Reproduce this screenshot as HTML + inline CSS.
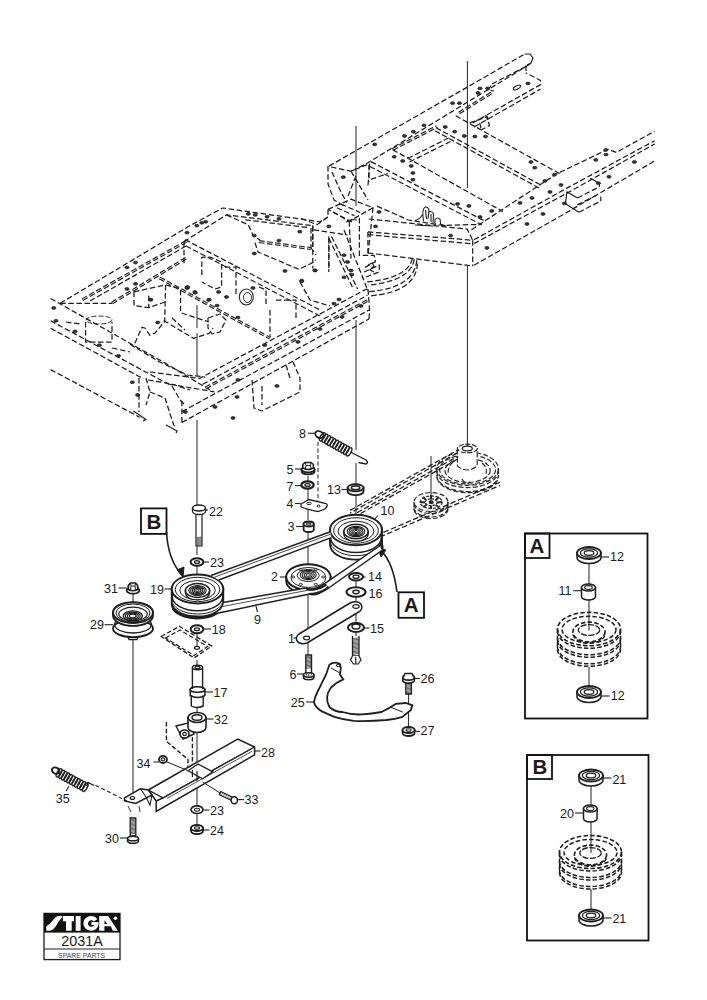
<!DOCTYPE html>
<html><head><meta charset="utf-8">
<style>
html,body{margin:0;padding:0;background:#fff;}
body{width:707px;height:1000px;overflow:hidden;position:relative;}
svg{position:absolute;left:0;top:0;}
text{font-family:"Liberation Sans",sans-serif;fill:#1a1a1a;}
</style></head><body>
<svg width="707" height="1000" viewBox="0 0 707 1000">
<rect width="707" height="1000" fill="#fff"/>
<path d="M423.5,221 Q421.5,208.5 425.5,207 Q428.5,206.8 429,210.5 L428,219 M425.5,210 L426.5,219 M428.8,212 Q431.5,210.5 433.6,214 L433,223 M431,214 L431,222 M435,226 L435,219.5 Q437.5,216.5 440.2,219.5 L440.5,224 L446,226 M415,220.5 Q420,219 422.4,214.7 M415,225 L433,226" fill="none" stroke="#1c1c1c" stroke-width="1.1"/>
<g fill="none" stroke="#1c1c1c" stroke-width="1.25" stroke-dasharray="5.5 2.6">
<path d="M412.4,258.5 Q408,278 366.5,282"/>
<path d="M414.3,259.1 Q411,281 367.8,285.2"/>
<path d="M416.8,260.4 Q414,288 369,291.6"/>
<path d="M417.5,263.5 Q416,292 369.7,296"/>
</g>
<ellipse cx="246.3" cy="297" rx="7" ry="8" fill="none" stroke="#2a2a2a" stroke-width="1.1"/>
<ellipse cx="247.5" cy="297.5" rx="4" ry="5" fill="none" stroke="#2a2a2a" stroke-width="1"/>
<ellipse cx="99" cy="320" rx="13" ry="4" fill="none" stroke="#2a2a2a" stroke-width="1" stroke-dasharray="5 2"/>
<g fill="none" stroke="#2a2a2a" stroke-width="1.2" stroke-dasharray="5 2.2">
<ellipse cx="467.6" cy="468.7" rx="30.8" ry="16.6"/>
<ellipse cx="467.6" cy="469.5" rx="28" ry="14.5"/>
<ellipse cx="467.6" cy="470.4" rx="22.6" ry="12"/>
<path d="M436.8,471 A30.8,16.6 0 0 0 498.4,471 M436.8,475 A30.8,16.6 0 0 0 498.4,475 M437,478 A30.8,16.6 0 0 0 498.2,478 M436.8,468.7 L436.8,478 M498.4,468.7 L498.4,478"/>
<path d="M453,462 Q448,466 448,474 M482,463 Q488,468 486,474 M462,479 Q466,486 470,482"/>
<ellipse cx="431" cy="502" rx="17" ry="9.5"/>
<path d="M414,504 A17,9.5 0 0 0 448,504 M414,507.5 A17,9.5 0 0 0 448,507.5 M414.2,510.5 A17,9.5 0 0 0 447.8,510.5 M414,502 L414,510.5 M448,502 L448,510.5"/>
</g>
<path d="M457.4,448.5 L457.4,466 Q467,474 477.2,466 L477.2,448.5" fill="#fff" stroke="#2a2a2a" stroke-width="1.1" stroke-dasharray="6 2"/>
<ellipse cx="467.3" cy="448.5" rx="9.9" ry="4.3" fill="#fff" stroke="#2a2a2a" stroke-width="1.2" stroke-dasharray="5 1.5"/>
<ellipse cx="467.3" cy="448.5" rx="5" ry="2.3" fill="none" stroke="#2a2a2a" stroke-width="1.3"/>
<g fill="none" stroke="#2a2a2a" stroke-width="1.3">
<ellipse cx="431.2" cy="502.2" rx="11" ry="6.2" stroke-dasharray="3 1.5"/>
<ellipse cx="431.2" cy="502.2" rx="6" ry="3.4" stroke-dasharray="2.5 1.2"/>
<path d="M431,495 L431,499 M439,497 L436,500 M442,502 L437,502.5 M439,507 L435.5,505 M431,509 L431,505.5 M423,507 L426.5,505 M420,502 L425,502.5 M423,497 L426,500" stroke-width="2"/>
<ellipse cx="431.2" cy="502.2" rx="2" ry="1.3" fill="#333"/>
</g>
<ellipse cx="517" cy="87.5" rx="4" ry="1.6" fill="none" stroke="#1c1c1c" stroke-width="1.1" transform="rotate(-28 517 87.5)"/>
<g id="frame" fill="none" stroke-linecap="butt" stroke-linejoin="round">
<path d="M328.9,166.1 L470,85.6 L524.7,54" stroke="#1c1c1c" stroke-width="1.25" stroke-dasharray="5.5 2.6"/>
<path d="M524.7,54 L530,54 L533,58 L531,63 L527,65" stroke="#1c1c1c" stroke-width="1.2"/>
<path d="M351.7,171 L367.5,163 L531.8,63" stroke="#1c1c1c" stroke-width="1.25" stroke-dasharray="5.5 2.6"/>
<path d="M392.5,149.5 L437,126.5" stroke="#1c1c1c" stroke-width="3.0" stroke-dasharray="5.5 2.6"/>
<path d="M392.5,149.5 L437,126.5" stroke="#fff" stroke-width="0.8" stroke-dasharray="5.5 2.6"/>
<path d="M459,113 L493,92" stroke="#1c1c1c" stroke-width="3.0" stroke-dasharray="5.5 2.6"/>
<path d="M459,113 L493,92" stroke="#fff" stroke-width="0.8" stroke-dasharray="5.5 2.6"/>
<path d="M526,65.5 L526,74" stroke="#1c1c1c" stroke-width="1.25" stroke-dasharray="5.5 2.6"/>
<path d="M491,85.5 L488,90 L494,91" stroke="#1c1c1c" stroke-width="1.25" stroke-dasharray="5.5 2.6"/>
<path d="M481,128.3 L479,119.8 L486,115.5 L488.6,123.2" stroke="#1c1c1c" stroke-width="1.25" stroke-dasharray="5.5 2.6"/>
<path d="M492,84 L527,66" stroke="#1c1c1c" stroke-width="1.25" stroke-dasharray="5.5 2.6"/>
<path d="M472.7,123 L540.6,84.6 L540.6,80.5 L526,73" stroke="#1c1c1c" stroke-width="1.25" stroke-dasharray="5.5 2.6"/>
<path d="M474,127 L540.6,89" stroke="#1c1c1c" stroke-width="1.25" stroke-dasharray="5.5 2.6"/>
<path d="M455.7,115.8 L560.7,174.3" stroke="#1c1c1c" stroke-width="1.25" stroke-dasharray="5.5 2.6"/>
<path d="M436,127.7 L540.9,185.1" stroke="#1c1c1c" stroke-width="1.25" stroke-dasharray="5.5 2.6"/>
<path d="M435,130.7 L539,188" stroke="#1c1c1c" stroke-width="1.25" stroke-dasharray="5.5 2.6"/>
<path d="M469.6,122.8 L487.4,116.8 L489.4,125.7 L481.5,129.7" stroke="#1c1c1c" stroke-width="1.25" stroke-dasharray="5.5 2.6"/>
<path d="M392.7,149.7 L503,211.6" stroke="#1c1c1c" stroke-width="1.25" stroke-dasharray="5.5 2.6"/>
<path d="M407.8,158.4 L448.6,138" stroke="#1c1c1c" stroke-width="1.25" stroke-dasharray="5.5 2.6"/>
<path d="M409.5,162 L450.5,141.5" stroke="#1c1c1c" stroke-width="1.25" stroke-dasharray="5.5 2.6"/>
<path d="M370.9,161.6 L485.8,221.6" stroke="#1c1c1c" stroke-width="1.25" stroke-dasharray="5.5 2.6"/>
<path d="M369.9,166.5 L481.8,224.9" stroke="#1c1c1c" stroke-width="1.25" stroke-dasharray="5.5 2.6"/>
<path d="M370.9,179.4 L387.7,173.5" stroke="#1c1c1c" stroke-width="1.25" stroke-dasharray="5.5 2.6"/>
<path d="M369,165 L369,182" stroke="#1c1c1c" stroke-width="1.25" stroke-dasharray="5.5 2.6"/>
<path d="M377,206.1 L395,214 L408.3,220 L443.3,225.5 L476.4,224.5" stroke="#1c1c1c" stroke-width="1.25" stroke-dasharray="5.5 2.6"/>
<path d="M368.8,219 L467.2,229.1 L472.7,240.2" stroke="#1c1c1c" stroke-width="1.25" stroke-dasharray="5.5 2.6"/>
<path d="M367.9,231.9 L472.7,240.2" stroke="#1c1c1c" stroke-width="1.25" stroke-dasharray="5.5 2.6"/>
<path d="M367.9,234.7 L472.7,243.8" stroke="#1c1c1c" stroke-width="1.25" stroke-dasharray="5.5 2.6"/>
<path d="M367.9,253 L472.7,266" stroke="#1c1c1c" stroke-width="1.25" stroke-dasharray="5.5 2.6"/>
<path d="M367.9,232 L367.9,253" stroke="#1c1c1c" stroke-width="1.25" stroke-dasharray="5.5 2.6"/>
<path d="M472.7,240.2 L472.7,266" stroke="#1c1c1c" stroke-width="1.25" stroke-dasharray="5.5 2.6"/>
<path d="M471.5,229.7 L557,173.7 L608,149.3 L616.4,152.4 L654.6,131.2" stroke="#1c1c1c" stroke-width="1.25" stroke-dasharray="5.5 2.6"/>
<path d="M474,239.8 L570,186.4 L654.6,140.8" stroke="#1c1c1c" stroke-width="1.25" stroke-dasharray="5.5 2.6"/>
<path d="M474,243.6 L570,191.5 L654.6,144" stroke="#1c1c1c" stroke-width="1.25" stroke-dasharray="5.5 2.6"/>
<path d="M474,265.3 L570,210.6 L654.6,161" stroke="#1c1c1c" stroke-width="1.25" stroke-dasharray="5.5 2.6"/>
<path d="M566.9,191.7 L577.5,198" stroke="#1c1c1c" stroke-width="1.2"/>
<path d="M577.5,198 L599.4,186.8" stroke="#1c1c1c" stroke-width="1.25" stroke-dasharray="5.5 2.6"/>
<path d="M590.2,178.3 L599.4,183.2 L599.4,186.8" stroke="#1c1c1c" stroke-width="1.2"/>
<path d="M565.5,203.7 L578.9,212.2" stroke="#1c1c1c" stroke-width="1.2"/>
<path d="M578.9,212.2 L600.8,201" stroke="#1c1c1c" stroke-width="1.25" stroke-dasharray="5.5 2.6"/>
<path d="M600.8,196.5 L600.8,201" stroke="#1c1c1c" stroke-width="1.2"/>
<path d="M596.6,195.3 L577,205" stroke="#1c1c1c" stroke-width="1.25" stroke-dasharray="5.5 2.6"/>
<path d="M566.9,191.7 L565.5,203.7" stroke="#1c1c1c" stroke-width="1.2"/>
<path d="M328,166.1 L328,184 L334,200 L344,206" stroke="#1c1c1c" stroke-width="1.25" stroke-dasharray="5.5 2.6"/>
<path d="M332,172 L340,190 L346.7,202.6" stroke="#1c1c1c" stroke-width="1.25" stroke-dasharray="5.5 2.6"/>
<path d="M331,167 L351,171.2 L369.6,163.6" stroke="#1c1c1c" stroke-width="1.25" stroke-dasharray="5.5 2.6"/>
<path d="M369.6,163.6 L368,185.6" stroke="#1c1c1c" stroke-width="1.25" stroke-dasharray="5.5 2.6"/>
<path d="M351,171.2 L368,200" stroke="#1c1c1c" stroke-width="1.25" stroke-dasharray="5.5 2.6"/>
<path d="M356,176 L348,196" stroke="#1c1c1c" stroke-width="1.25" stroke-dasharray="5.5 2.6"/>
<path d="M328,209.4 L351,199.2 L373,207.7 L349.2,221.3 L328,209.4" stroke="#1c1c1c" stroke-width="1.25" stroke-dasharray="5.5 2.6"/>
<path d="M333,212 L352,222" stroke="#1c1c1c" stroke-width="1.25" stroke-dasharray="5.5 2.6"/>
<path d="M336.8,207.7 L354.5,215.7" stroke="#1c1c1c" stroke-width="1.25" stroke-dasharray="5.5 2.6"/>
<path d="M341,204 L360,212.5" stroke="#1c1c1c" stroke-width="1.25" stroke-dasharray="5.5 2.6"/>
<path d="M346,222 L352,219.5 L357,220" stroke="#1c1c1c" stroke-width="1.2"/>
<path d="M312.8,225.3 L312.8,268.5" stroke="#1c1c1c" stroke-width="1.25" stroke-dasharray="5.5 2.6"/>
<path d="M328.8,236.5 L328.8,272" stroke="#1c1c1c" stroke-width="1.25" stroke-dasharray="5.5 2.6"/>
<path d="M349.2,221.3 L351,258.6" stroke="#1c1c1c" stroke-width="1.25" stroke-dasharray="5.5 2.6"/>
<path d="M359.4,218 L359.4,258.6" stroke="#1c1c1c" stroke-width="1.25" stroke-dasharray="5.5 2.6"/>
<path d="M373,207.7 L368,255" stroke="#1c1c1c" stroke-width="1.25" stroke-dasharray="5.5 2.6"/>
<path d="M328,209.4 L328,217 L317,224.7 L300,218" stroke="#1c1c1c" stroke-width="1.25" stroke-dasharray="5.5 2.6"/>
<path d="M313.6,229.8 L347.5,235" stroke="#1c1c1c" stroke-width="1.25" stroke-dasharray="5.5 2.6"/>
<path d="M311,228 L311,248.4" stroke="#1c1c1c" stroke-width="1.25" stroke-dasharray="5.5 2.6"/>
<path d="M328.9,238.3 L352.6,287.5" stroke="#1c1c1c" stroke-width="1.25" stroke-dasharray="5.5 2.6"/>
<path d="M331.5,236.5 L357.7,289" stroke="#1c1c1c" stroke-width="1.25" stroke-dasharray="5.5 2.6"/>
<path d="M344,230 L368,291" stroke="#1c1c1c" stroke-width="1.25" stroke-dasharray="5.5 2.6"/>
<path d="M328.9,238.3 L328.9,270" stroke="#1c1c1c" stroke-width="1.25" stroke-dasharray="5.5 2.6"/>
<path d="M362.7,255.3 L374.2,255.3 L375.5,261.6 L364,268" stroke="#1c1c1c" stroke-width="1.25" stroke-dasharray="5.5 2.6"/>
<path d="M364,272 L379.3,265 L379.3,271.8 L363,278.2" stroke="#1c1c1c" stroke-width="1.25" stroke-dasharray="5.5 2.6"/>
<path d="M368,265 L372,263 L374,266 L370,270 L374,272" stroke="#1c1c1c" stroke-width="1.2"/>
<path d="M60.2,303.3 L188.5,226.5 L222.6,208 L320,221.8 L328,217" stroke="#1c1c1c" stroke-width="1.25" stroke-dasharray="5.5 2.6"/>
<path d="M82.4,299.7 L186.4,241.4" stroke="#1c1c1c" stroke-width="3.0" stroke-dasharray="5.5 2.6"/>
<path d="M82.4,299.7 L186.4,241.4" stroke="#fff" stroke-width="0.8" stroke-dasharray="5.5 2.6"/>
<path d="M90,301 L186,246" stroke="#1c1c1c" stroke-width="1.25" stroke-dasharray="5.5 2.6"/>
<path d="M112,303 L186.4,258" stroke="#1c1c1c" stroke-width="3.0" stroke-dasharray="5.5 2.6"/>
<path d="M112,303 L186.4,258" stroke="#fff" stroke-width="0.8" stroke-dasharray="5.5 2.6"/>
<path d="M60.2,303.3 L112,303.3" stroke="#1c1c1c" stroke-width="1.25" stroke-dasharray="5.5 2.6"/>
<path d="M184,241.6 L226.5,214.9 L312.7,225.7 L312.7,246.5" stroke="#1c1c1c" stroke-width="1.25" stroke-dasharray="5.5 2.6"/>
<path d="M185,239.6 L320,309.9" stroke="#1c1c1c" stroke-width="1.25" stroke-dasharray="5.5 2.6"/>
<path d="M186,246 L320,316" stroke="#1c1c1c" stroke-width="1.25" stroke-dasharray="5.5 2.6"/>
<path d="M184,241.6 L184,265.3" stroke="#1c1c1c" stroke-width="1.25" stroke-dasharray="5.5 2.6"/>
<path d="M226.5,214.9 L248.3,224.8 L253.3,235.6 L260,240" stroke="#1c1c1c" stroke-width="1.25" stroke-dasharray="5.5 2.6"/>
<path d="M245.3,219.8 L308.7,227.7" stroke="#1c1c1c" stroke-width="1.25" stroke-dasharray="5.5 2.6"/>
<path d="M259,241.6 L310.7,248.5" stroke="#1c1c1c" stroke-width="3.0" stroke-dasharray="5.5 2.6"/>
<path d="M259,241.6 L310.7,248.5" stroke="#fff" stroke-width="0.8" stroke-dasharray="5.5 2.6"/>
<path d="M255,242.6 L258,252 L298.8,269.3 L310,264 L316,260" stroke="#1c1c1c" stroke-width="1.25" stroke-dasharray="5.5 2.6"/>
<path d="M310.7,247.5 L316,255" stroke="#1c1c1c" stroke-width="1.25" stroke-dasharray="5.5 2.6"/>
<path d="M201.8,275 L201.8,257.4 L210,257 L221.6,262 L221.6,287 L215,289 L201.8,282" stroke="#1c1c1c" stroke-width="1.25" stroke-dasharray="5.5 2.6"/>
<path d="M225,267 L236,267 L236,296" stroke="#1c1c1c" stroke-width="1.25" stroke-dasharray="5.5 2.6"/>
<path d="M259,287 L266,290 L266,306" stroke="#1c1c1c" stroke-width="1.25" stroke-dasharray="5.5 2.6"/>
<path d="M276,300 L296,300 L296,320" stroke="#1c1c1c" stroke-width="1.25" stroke-dasharray="5.5 2.6"/>
<path d="M159.7,278 L270,338.3" stroke="#1c1c1c" stroke-width="3.0" stroke-dasharray="5.5 2.6"/>
<path d="M159.7,278 L270,338.3" stroke="#fff" stroke-width="0.8" stroke-dasharray="5.5 2.6"/>
<path d="M134,291.8 L165.6,284.9 L180.5,288.8 L180.5,312.6 L209,322" stroke="#1c1c1c" stroke-width="1.25" stroke-dasharray="5.5 2.6"/>
<path d="M134,291.8 L134,305.6 L148.8,307.6 L165,302" stroke="#1c1c1c" stroke-width="1.25" stroke-dasharray="5.5 2.6"/>
<path d="M148.8,295.7 L148.8,307.6" stroke="#1c1c1c" stroke-width="1.25" stroke-dasharray="5.5 2.6"/>
<path d="M165.6,284.9 L164.7,321.5 L155,333 L149.8,335.3 L145,328 L141.9,327.4 L134,345.2" stroke="#1c1c1c" stroke-width="1.25" stroke-dasharray="5.5 2.6"/>
<path d="M163.7,320.5 L193.4,338.3 L209.2,333.4 L213,328" stroke="#1c1c1c" stroke-width="1.25" stroke-dasharray="5.5 2.6"/>
<path d="M172,318 L185,330" stroke="#1c1c1c" stroke-width="1.25" stroke-dasharray="5.5 2.6"/>
<path d="M208,318 L220,314 L226,320 L220,332 L212,334 L208,328 L208,318" stroke="#1c1c1c" stroke-width="1.25" stroke-dasharray="5.5 2.6"/>
<path d="M130,344.3 L159.7,362 L187.4,375 L205,377" stroke="#1c1c1c" stroke-width="1.25" stroke-dasharray="5.5 2.6"/>
<path d="M270,310 L270,337" stroke="#1c1c1c" stroke-width="1.25" stroke-dasharray="5.5 2.6"/>
<path d="M300,282 L310,300 L330,306" stroke="#1c1c1c" stroke-width="1.25" stroke-dasharray="5.5 2.6"/>
<path d="M50.6,298.5 L167.3,364.3 L210,390" stroke="#1c1c1c" stroke-width="1.25" stroke-dasharray="5.5 2.6"/>
<path d="M50.6,320.8 L158.8,379 L172,386" stroke="#1c1c1c" stroke-width="1.25" stroke-dasharray="5.5 2.6"/>
<path d="M50.6,328.2 L141.8,378" stroke="#1c1c1c" stroke-width="1.25" stroke-dasharray="5.5 2.6"/>
<path d="M50.6,369.6 L139.7,417.3" stroke="#1c1c1c" stroke-width="1.25" stroke-dasharray="5.5 2.6"/>
<path d="M133.4,411 L146,419.4 L143,421" stroke="#1c1c1c" stroke-width="1.2"/>
<path d="M139,378 L139,412" stroke="#1c1c1c" stroke-width="1.25" stroke-dasharray="5.5 2.6"/>
<path d="M146,378 L150,392 L146,405" stroke="#1c1c1c" stroke-width="1.25" stroke-dasharray="5.5 2.6"/>
<path d="M85.6,322 L85.6,342 L112,342 L112,322" stroke="#1c1c1c" stroke-width="1.25" stroke-dasharray="5.5 2.6"/>
<path d="M66,322 L80,324" stroke="#1c1c1c" stroke-width="1.25" stroke-dasharray="5.5 2.6"/>
<path d="M112,348 L130,352" stroke="#1c1c1c" stroke-width="1.25" stroke-dasharray="5.5 2.6"/>
<path d="M148,380 L172,384 L190,390" stroke="#1c1c1c" stroke-width="1.25" stroke-dasharray="5.5 2.6"/>
<path d="M172,386 L180,400 L185,405" stroke="#1c1c1c" stroke-width="1.25" stroke-dasharray="5.5 2.6"/>
<path d="M150,372 L199.7,378.4 L366,289.3 L368,289.2" stroke="#1c1c1c" stroke-width="1.25" stroke-dasharray="5.5 2.6"/>
<path d="M202.7,384.3 L367.5,295.2" stroke="#1c1c1c" stroke-width="1.25" stroke-dasharray="5.5 2.6"/>
<path d="M205.6,388 L367.5,300.5" stroke="#1c1c1c" stroke-width="3.0" stroke-dasharray="5.5 2.6"/>
<path d="M205.6,388 L367.5,300.5" stroke="#fff" stroke-width="0.8" stroke-dasharray="5.5 2.6"/>
<path d="M181.9,411.6 L369,310" stroke="#1c1c1c" stroke-width="1.25" stroke-dasharray="5.5 2.6"/>
<path d="M181.9,422.5 L369,319" stroke="#1c1c1c" stroke-width="1.25" stroke-dasharray="5.5 2.6"/>
<path d="M368,289.2 L369.6,310 L369,319" stroke="#1c1c1c" stroke-width="1.25" stroke-dasharray="5.5 2.6"/>
<path d="M170,384.3 L214.5,391.8" stroke="#1c1c1c" stroke-width="1.25" stroke-dasharray="5.5 2.6"/>
<path d="M181.9,400.7 L181.9,422.5" stroke="#1c1c1c" stroke-width="1.25" stroke-dasharray="5.5 2.6"/>
<path d="M150,392 L165,398 L172,420 L175,428" stroke="#1c1c1c" stroke-width="1.25" stroke-dasharray="5.5 2.6"/>
<path d="M166,425 L177,431 L176,433" stroke="#1c1c1c" stroke-width="1.2"/>
<path d="M252,380 L254,408 L262,411 L300,392 L300,378 L293,362" stroke="#1c1c1c" stroke-width="1.25" stroke-dasharray="5.5 2.6"/>
<path d="M262,386 L262,405" stroke="#1c1c1c" stroke-width="1.25" stroke-dasharray="5.5 2.6"/>
<path d="M286,365 L290,378" stroke="#1c1c1c" stroke-width="1.25" stroke-dasharray="5.5 2.6"/>
<path d="M350,510.4 L458,449.9" stroke="#1c1c1c" stroke-width="1.25" stroke-dasharray="5.5 2.6"/>
<path d="M350,513.1 L458,452.6" stroke="#1c1c1c" stroke-width="1.25" stroke-dasharray="5.5 2.6" stroke-dashoffset="4"/>
<path d="M350,516.7 L458,456.2" stroke="#1c1c1c" stroke-width="1.25" stroke-dasharray="5.5 2.6"/>
<path d="M350,519.4 L458,458.9" stroke="#1c1c1c" stroke-width="1.25" stroke-dasharray="5.5 2.6" stroke-dashoffset="4"/>
<path d="M376,535.6 L500,482.3" stroke="#1c1c1c" stroke-width="1.25" stroke-dasharray="5.5 2.6"/>
<path d="M376,538.7 L500,485.4" stroke="#1c1c1c" stroke-width="1.25" stroke-dasharray="5.5 2.6" stroke-dashoffset="4"/>
<ellipse cx="450.6" cy="235.6" rx="2.1" ry="1.4" fill="#333" stroke="#1c1c1c" stroke-width="0.7"/>
<ellipse cx="374.7" cy="144.4" rx="2.1" ry="1.4" fill="#333" stroke="#1c1c1c" stroke-width="0.7"/>
<ellipse cx="404.5" cy="136" rx="2.1" ry="1.4" fill="#333" stroke="#1c1c1c" stroke-width="0.7"/>
<ellipse cx="413.4" cy="131.7" rx="2.1" ry="1.4" fill="#333" stroke="#1c1c1c" stroke-width="0.7"/>
<ellipse cx="424" cy="125.3" rx="2.1" ry="1.4" fill="#333" stroke="#1c1c1c" stroke-width="0.7"/>
<ellipse cx="452.6" cy="103.2" rx="2.1" ry="1.4" fill="#333" stroke="#1c1c1c" stroke-width="0.7"/>
<ellipse cx="459.4" cy="103.2" rx="2.1" ry="1.4" fill="#333" stroke="#1c1c1c" stroke-width="0.7"/>
<ellipse cx="445.2" cy="127" rx="2.1" ry="1.4" fill="#333" stroke="#1c1c1c" stroke-width="0.7"/>
<ellipse cx="454.7" cy="131.7" rx="2.1" ry="1.4" fill="#333" stroke="#1c1c1c" stroke-width="0.7"/>
<ellipse cx="464.3" cy="136" rx="2.1" ry="1.4" fill="#333" stroke="#1c1c1c" stroke-width="0.7"/>
<ellipse cx="394.2" cy="156.8" rx="2.1" ry="1.4" fill="#333" stroke="#1c1c1c" stroke-width="0.7"/>
<ellipse cx="402.7" cy="161" rx="2.1" ry="1.4" fill="#333" stroke="#1c1c1c" stroke-width="0.7"/>
<ellipse cx="411.2" cy="166" rx="2.1" ry="1.4" fill="#333" stroke="#1c1c1c" stroke-width="0.7"/>
<ellipse cx="412.9" cy="173" rx="2.1" ry="1.4" fill="#333" stroke="#1c1c1c" stroke-width="0.7"/>
<ellipse cx="412.9" cy="179.7" rx="2.1" ry="1.4" fill="#333" stroke="#1c1c1c" stroke-width="0.7"/>
<ellipse cx="343.3" cy="177.2" rx="2.1" ry="1.4" fill="#333" stroke="#1c1c1c" stroke-width="0.7"/>
<ellipse cx="480" cy="88.4" rx="2.1" ry="1.4" fill="#333" stroke="#1c1c1c" stroke-width="0.7"/>
<ellipse cx="487.6" cy="88.4" rx="2.1" ry="1.4" fill="#333" stroke="#1c1c1c" stroke-width="0.7"/>
<ellipse cx="478" cy="93" rx="2.1" ry="1.4" fill="#333" stroke="#1c1c1c" stroke-width="0.7"/>
<ellipse cx="528" cy="83.5" rx="2.1" ry="1.4" fill="#333" stroke="#1c1c1c" stroke-width="0.7"/>
<ellipse cx="474.9" cy="136.5" rx="2.1" ry="1.4" fill="#333" stroke="#1c1c1c" stroke-width="0.7"/>
<ellipse cx="485.5" cy="136.5" rx="2.1" ry="1.4" fill="#333" stroke="#1c1c1c" stroke-width="0.7"/>
<ellipse cx="531" cy="162" rx="2.1" ry="1.4" fill="#333" stroke="#1c1c1c" stroke-width="0.7"/>
<ellipse cx="534.7" cy="167.7" rx="2.1" ry="1.4" fill="#333" stroke="#1c1c1c" stroke-width="0.7"/>
<ellipse cx="554.4" cy="174.7" rx="2.1" ry="1.4" fill="#333" stroke="#1c1c1c" stroke-width="0.7"/>
<ellipse cx="544.9" cy="181" rx="2.1" ry="1.4" fill="#333" stroke="#1c1c1c" stroke-width="0.7"/>
<ellipse cx="457.5" cy="204" rx="2.1" ry="1.4" fill="#333" stroke="#1c1c1c" stroke-width="0.7"/>
<ellipse cx="468.9" cy="206" rx="2.1" ry="1.4" fill="#333" stroke="#1c1c1c" stroke-width="0.7"/>
<ellipse cx="491.8" cy="211" rx="2.1" ry="1.4" fill="#333" stroke="#1c1c1c" stroke-width="0.7"/>
<ellipse cx="480" cy="217" rx="2.1" ry="1.4" fill="#333" stroke="#1c1c1c" stroke-width="0.7"/>
<ellipse cx="595.8" cy="159.9" rx="2.1" ry="1.4" fill="#333" stroke="#1c1c1c" stroke-width="0.7"/>
<ellipse cx="606" cy="154.6" rx="2.1" ry="1.4" fill="#333" stroke="#1c1c1c" stroke-width="0.7"/>
<ellipse cx="605.8" cy="150" rx="2.1" ry="1.4" fill="#333" stroke="#1c1c1c" stroke-width="0.7"/>
<ellipse cx="634.4" cy="162" rx="2.1" ry="1.4" fill="#333" stroke="#1c1c1c" stroke-width="0.7"/>
<ellipse cx="609" cy="176.8" rx="2.1" ry="1.4" fill="#333" stroke="#1c1c1c" stroke-width="0.7"/>
<ellipse cx="598.4" cy="183.2" rx="2.1" ry="1.4" fill="#333" stroke="#1c1c1c" stroke-width="0.7"/>
<ellipse cx="564.4" cy="203.4" rx="2.1" ry="1.4" fill="#333" stroke="#1c1c1c" stroke-width="0.7"/>
<ellipse cx="520" cy="203" rx="2.1" ry="1.4" fill="#333" stroke="#1c1c1c" stroke-width="0.7"/>
<ellipse cx="532" cy="198" rx="2.1" ry="1.4" fill="#333" stroke="#1c1c1c" stroke-width="0.7"/>
<ellipse cx="487" cy="248" rx="2.1" ry="1.4" fill="#333" stroke="#1c1c1c" stroke-width="0.7"/>
<ellipse cx="527" cy="224" rx="2.1" ry="1.4" fill="#333" stroke="#1c1c1c" stroke-width="0.7"/>
<ellipse cx="543" cy="214" rx="2.1" ry="1.4" fill="#333" stroke="#1c1c1c" stroke-width="0.7"/>
<ellipse cx="550" cy="192" rx="2.1" ry="1.4" fill="#333" stroke="#1c1c1c" stroke-width="0.7"/>
<ellipse cx="561" cy="185" rx="2.1" ry="1.4" fill="#333" stroke="#1c1c1c" stroke-width="0.7"/>
<ellipse cx="379" cy="212" rx="2.1" ry="1.4" fill="#333" stroke="#1c1c1c" stroke-width="0.7"/>
<ellipse cx="375.5" cy="226.4" rx="2.1" ry="1.4" fill="#333" stroke="#1c1c1c" stroke-width="0.7"/>
<ellipse cx="328.9" cy="226.4" rx="2.1" ry="1.4" fill="#333" stroke="#1c1c1c" stroke-width="0.7"/>
<ellipse cx="344" cy="255.2" rx="2.1" ry="1.4" fill="#333" stroke="#1c1c1c" stroke-width="0.7"/>
<ellipse cx="347.5" cy="262" rx="2.1" ry="1.4" fill="#333" stroke="#1c1c1c" stroke-width="0.7"/>
<ellipse cx="351" cy="270.5" rx="2.1" ry="1.4" fill="#333" stroke="#1c1c1c" stroke-width="0.7"/>
<ellipse cx="351.8" cy="274.7" rx="2.1" ry="1.4" fill="#333" stroke="#1c1c1c" stroke-width="0.7"/>
<ellipse cx="344" cy="277.3" rx="2.1" ry="1.4" fill="#333" stroke="#1c1c1c" stroke-width="0.7"/>
<ellipse cx="315.3" cy="270.5" rx="2.1" ry="1.4" fill="#333" stroke="#1c1c1c" stroke-width="0.7"/>
<ellipse cx="301.7" cy="280.7" rx="2.1" ry="1.4" fill="#333" stroke="#1c1c1c" stroke-width="0.7"/>
<ellipse cx="339" cy="299.4" rx="2.1" ry="1.4" fill="#333" stroke="#1c1c1c" stroke-width="0.7"/>
<ellipse cx="334" cy="303.6" rx="2.1" ry="1.4" fill="#333" stroke="#1c1c1c" stroke-width="0.7"/>
<ellipse cx="361" cy="306" rx="2.1" ry="1.4" fill="#333" stroke="#1c1c1c" stroke-width="0.7"/>
<ellipse cx="187" cy="232.7" rx="2.1" ry="1.4" fill="#333" stroke="#1c1c1c" stroke-width="0.7"/>
<ellipse cx="196.8" cy="225.7" rx="2.1" ry="1.4" fill="#333" stroke="#1c1c1c" stroke-width="0.7"/>
<ellipse cx="201.8" cy="222.8" rx="2.1" ry="1.4" fill="#333" stroke="#1c1c1c" stroke-width="0.7"/>
<ellipse cx="205.7" cy="221.8" rx="2.1" ry="1.4" fill="#333" stroke="#1c1c1c" stroke-width="0.7"/>
<ellipse cx="248.3" cy="213.9" rx="2.1" ry="1.4" fill="#333" stroke="#1c1c1c" stroke-width="0.7"/>
<ellipse cx="255.2" cy="214.9" rx="2.1" ry="1.4" fill="#333" stroke="#1c1c1c" stroke-width="0.7"/>
<ellipse cx="267.1" cy="216.8" rx="2.1" ry="1.4" fill="#333" stroke="#1c1c1c" stroke-width="0.7"/>
<ellipse cx="279" cy="218.8" rx="2.1" ry="1.4" fill="#333" stroke="#1c1c1c" stroke-width="0.7"/>
<ellipse cx="299.8" cy="231.7" rx="2.1" ry="1.4" fill="#333" stroke="#1c1c1c" stroke-width="0.7"/>
<ellipse cx="254.3" cy="235.6" rx="2.1" ry="1.4" fill="#333" stroke="#1c1c1c" stroke-width="0.7"/>
<ellipse cx="279" cy="240.6" rx="2.1" ry="1.4" fill="#333" stroke="#1c1c1c" stroke-width="0.7"/>
<ellipse cx="254.3" cy="253.5" rx="2.1" ry="1.4" fill="#333" stroke="#1c1c1c" stroke-width="0.7"/>
<ellipse cx="285" cy="271" rx="2.1" ry="1.4" fill="#333" stroke="#1c1c1c" stroke-width="0.7"/>
<ellipse cx="301.8" cy="281.2" rx="2.1" ry="1.4" fill="#333" stroke="#1c1c1c" stroke-width="0.7"/>
<ellipse cx="314.7" cy="270.3" rx="2.1" ry="1.4" fill="#333" stroke="#1c1c1c" stroke-width="0.7"/>
<ellipse cx="194.9" cy="292" rx="2.1" ry="1.4" fill="#333" stroke="#1c1c1c" stroke-width="0.7"/>
<ellipse cx="187" cy="288" rx="2.1" ry="1.4" fill="#333" stroke="#1c1c1c" stroke-width="0.7"/>
<ellipse cx="208.7" cy="300" rx="2.1" ry="1.4" fill="#333" stroke="#1c1c1c" stroke-width="0.7"/>
<ellipse cx="218.6" cy="292" rx="2.1" ry="1.4" fill="#333" stroke="#1c1c1c" stroke-width="0.7"/>
<ellipse cx="226.5" cy="297" rx="2.1" ry="1.4" fill="#333" stroke="#1c1c1c" stroke-width="0.7"/>
<ellipse cx="253" cy="288" rx="2.1" ry="1.4" fill="#333" stroke="#1c1c1c" stroke-width="0.7"/>
<ellipse cx="187.4" cy="287.8" rx="2.1" ry="1.4" fill="#333" stroke="#1c1c1c" stroke-width="0.7"/>
<ellipse cx="195.3" cy="292.8" rx="2.1" ry="1.4" fill="#333" stroke="#1c1c1c" stroke-width="0.7"/>
<ellipse cx="209.2" cy="299.7" rx="2.1" ry="1.4" fill="#333" stroke="#1c1c1c" stroke-width="0.7"/>
<ellipse cx="217.1" cy="305.6" rx="2.1" ry="1.4" fill="#333" stroke="#1c1c1c" stroke-width="0.7"/>
<ellipse cx="237.9" cy="317.5" rx="2.1" ry="1.4" fill="#333" stroke="#1c1c1c" stroke-width="0.7"/>
<ellipse cx="264.7" cy="345.2" rx="2.1" ry="1.4" fill="#333" stroke="#1c1c1c" stroke-width="0.7"/>
<ellipse cx="237.9" cy="380" rx="2.1" ry="1.4" fill="#333" stroke="#1c1c1c" stroke-width="0.7"/>
<ellipse cx="157.7" cy="322.5" rx="2.1" ry="1.4" fill="#333" stroke="#1c1c1c" stroke-width="0.7"/>
<ellipse cx="150.8" cy="299.7" rx="2.1" ry="1.4" fill="#333" stroke="#1c1c1c" stroke-width="0.7"/>
<ellipse cx="127" cy="267.5" rx="2.1" ry="1.4" fill="#333" stroke="#1c1c1c" stroke-width="0.7"/>
<ellipse cx="135.5" cy="262.6" rx="2.1" ry="1.4" fill="#333" stroke="#1c1c1c" stroke-width="0.7"/>
<ellipse cx="127" cy="289" rx="2.1" ry="1.4" fill="#333" stroke="#1c1c1c" stroke-width="0.7"/>
<ellipse cx="135.5" cy="283.8" rx="2.1" ry="1.4" fill="#333" stroke="#1c1c1c" stroke-width="0.7"/>
<ellipse cx="150.3" cy="299.7" rx="2.1" ry="1.4" fill="#333" stroke="#1c1c1c" stroke-width="0.7"/>
<ellipse cx="187.5" cy="287" rx="2.1" ry="1.4" fill="#333" stroke="#1c1c1c" stroke-width="0.7"/>
<ellipse cx="53.8" cy="308" rx="2.1" ry="1.4" fill="#333" stroke="#1c1c1c" stroke-width="0.7"/>
<ellipse cx="56" cy="320.8" rx="2.1" ry="1.4" fill="#333" stroke="#1c1c1c" stroke-width="0.7"/>
<ellipse cx="75" cy="331.4" rx="2.1" ry="1.4" fill="#333" stroke="#1c1c1c" stroke-width="0.7"/>
<ellipse cx="99.4" cy="345.2" rx="2.1" ry="1.4" fill="#333" stroke="#1c1c1c" stroke-width="0.7"/>
<ellipse cx="118.5" cy="355.8" rx="2.1" ry="1.4" fill="#333" stroke="#1c1c1c" stroke-width="0.7"/>
<ellipse cx="132.3" cy="382.3" rx="2.1" ry="1.4" fill="#333" stroke="#1c1c1c" stroke-width="0.7"/>
<ellipse cx="137.6" cy="395" rx="2.1" ry="1.4" fill="#333" stroke="#1c1c1c" stroke-width="0.7"/>
<ellipse cx="185.3" cy="412" rx="2.1" ry="1.4" fill="#333" stroke="#1c1c1c" stroke-width="0.7"/>
<ellipse cx="215" cy="407" rx="2.1" ry="1.4" fill="#333" stroke="#1c1c1c" stroke-width="0.7"/>
<ellipse cx="233" cy="418" rx="2.1" ry="1.4" fill="#333" stroke="#1c1c1c" stroke-width="0.7"/>
<ellipse cx="237" cy="397" rx="2.1" ry="1.4" fill="#333" stroke="#1c1c1c" stroke-width="0.7"/>
<ellipse cx="298" cy="342" rx="2.1" ry="1.4" fill="#333" stroke="#1c1c1c" stroke-width="0.7"/>
<ellipse cx="320" cy="329" rx="2.1" ry="1.4" fill="#333" stroke="#1c1c1c" stroke-width="0.7"/>
<ellipse cx="342" cy="317" rx="2.1" ry="1.4" fill="#333" stroke="#1c1c1c" stroke-width="0.7"/>
<ellipse cx="277" cy="386" rx="2.1" ry="1.4" fill="#333" stroke="#1c1c1c" stroke-width="0.7"/>
</g>
<g id="parts">
<line x1="467.4" y1="61" x2="467.4" y2="188" stroke="#222" stroke-width="1"/>
<line x1="467.4" y1="266" x2="467.4" y2="446" stroke="#222" stroke-width="1"/>
<line x1="356" y1="126" x2="356" y2="206" stroke="#222" stroke-width="1"/>
<line x1="356" y1="320" x2="356" y2="450" stroke="#222" stroke-width="1"/>
<line x1="356" y1="463" x2="356" y2="485" stroke="#222" stroke-width="1"/>
<line x1="197" y1="305" x2="197" y2="328" stroke="#222" stroke-width="1"/>
<line x1="197" y1="333" x2="197" y2="376" stroke="#222" stroke-width="1"/>
<line x1="197" y1="420" x2="197" y2="505" stroke="#222" stroke-width="1"/>
<line x1="431" y1="456" x2="431" y2="503" stroke="#222" stroke-width="1"/>
<line x1="356" y1="494" x2="356" y2="520" stroke="#222" stroke-width="1"/>
<line x1="197" y1="515" x2="197" y2="555" stroke="#222" stroke-width="1"/>
<line x1="197" y1="566" x2="197" y2="582" stroke="#222" stroke-width="1"/>
<line x1="308" y1="476" x2="308" y2="520" stroke="#222" stroke-width="1"/>
<line x1="308" y1="530" x2="308" y2="566" stroke="#222" stroke-width="1"/>
<line x1="589" y1="564" x2="589" y2="584" stroke="#222" stroke-width="1"/>
<line x1="591" y1="786" x2="591" y2="805" stroke="#222" stroke-width="1"/>
<line x1="133" y1="592" x2="133" y2="616" stroke="#222" stroke-width="1"/>
<line x1="133" y1="640" x2="133" y2="797" stroke="#222" stroke-width="1"/>
<line x1="197" y1="703" x2="197" y2="712" stroke="#222" stroke-width="1"/>
<line x1="197" y1="723" x2="197" y2="806" stroke="#222" stroke-width="1"/>
<line x1="197" y1="814" x2="197" y2="826" stroke="#222" stroke-width="1"/>
<line x1="308" y1="590" x2="308" y2="656" stroke="#222" stroke-width="1"/>
<line x1="356" y1="580" x2="356" y2="590" stroke="#222" stroke-width="1"/>
<line x1="356" y1="596" x2="356" y2="624" stroke="#222" stroke-width="1"/>
<line x1="356" y1="633" x2="356" y2="650" stroke="#222" stroke-width="1"/>
<line x1="408.6" y1="694" x2="408.6" y2="727" stroke="#222" stroke-width="1"/>
<text x="299" y="437.5" font-size="12.5" text-anchor="start">8</text>
<text x="286.5" y="473.7" font-size="12.5" text-anchor="start">5</text>
<text x="286.5" y="491" font-size="12.5" text-anchor="start">7</text>
<text x="286.5" y="508" font-size="12.5" text-anchor="start">4</text>
<text x="287.5" y="530.5" font-size="12.5" text-anchor="start">3</text>
<text x="327" y="494" font-size="12.5" text-anchor="start">13</text>
<text x="380.5" y="514.5" font-size="12.5" text-anchor="start">10</text>
<text x="209" y="515.5" font-size="12.5" text-anchor="start">22</text>
<text x="210" y="567" font-size="12.5" text-anchor="start">23</text>
<text x="150" y="594" font-size="12.5" text-anchor="start">19</text>
<text x="104" y="593.3" font-size="12.5" text-anchor="start">31</text>
<text x="90" y="628.7" font-size="12.5" text-anchor="start">29</text>
<text x="211.7" y="634" font-size="12.5" text-anchor="start">18</text>
<text x="254" y="623.5" font-size="12.5" text-anchor="start">9</text>
<text x="271" y="580.5" font-size="12.5" text-anchor="start">2</text>
<text x="368" y="581" font-size="12.5" text-anchor="start">14</text>
<text x="368.5" y="598" font-size="12.5" text-anchor="start">16</text>
<text x="370" y="633.4" font-size="12.5" text-anchor="start">15</text>
<text x="288" y="643" font-size="12.5" text-anchor="start">1</text>
<text x="289.6" y="678.6" font-size="12.5" text-anchor="start">6</text>
<text x="420.6" y="683.3" font-size="12.5" text-anchor="start">26</text>
<text x="290.8" y="707.3" font-size="12.5" text-anchor="start">25</text>
<text x="420.6" y="735" font-size="12.5" text-anchor="start">27</text>
<text x="213.6" y="696.6" font-size="12.5" text-anchor="start">17</text>
<text x="214" y="723.8" font-size="12.5" text-anchor="start">32</text>
<text x="261" y="756.8" font-size="12.5" text-anchor="start">28</text>
<text x="136.6" y="768" font-size="12.5" text-anchor="start">34</text>
<text x="55.7" y="803" font-size="12.5" text-anchor="start">35</text>
<text x="244.6" y="804" font-size="12.5" text-anchor="start">33</text>
<text x="210" y="814.6" font-size="12.5" text-anchor="start">23</text>
<text x="210" y="835.2" font-size="12.5" text-anchor="start">24</text>
<text x="105" y="843" font-size="12.5" text-anchor="start">30</text>
<text x="610" y="561.3" font-size="12.5" text-anchor="start">12</text>
<text x="558.6" y="595.3" font-size="12.5" text-anchor="start">11</text>
<text x="610.8" y="700.4" font-size="12.5" text-anchor="start">12</text>
<text x="612.4" y="784" font-size="12.5" text-anchor="start">21</text>
<text x="560" y="818" font-size="12.5" text-anchor="start">20</text>
<text x="612.4" y="923" font-size="12.5" text-anchor="start">21</text>
<line x1="308" y1="433.3" x2="315.5" y2="433.3" stroke="#222" stroke-width="1.1"/>
<line x1="295" y1="469" x2="302.5" y2="469" stroke="#222" stroke-width="1.1"/>
<line x1="295" y1="485.6" x2="301.3" y2="485.6" stroke="#222" stroke-width="1.1"/>
<line x1="295" y1="503.5" x2="300.5" y2="503.5" stroke="#222" stroke-width="1.1"/>
<line x1="296" y1="526.5" x2="303.6" y2="526.5" stroke="#222" stroke-width="1.1"/>
<line x1="341.5" y1="489.5" x2="347.6" y2="489.5" stroke="#222" stroke-width="1.1"/>
<line x1="373" y1="521" x2="378" y2="515.5" stroke="#222" stroke-width="1.1"/>
<line x1="205.5" y1="510" x2="208" y2="510" stroke="#222" stroke-width="1.1"/>
<line x1="203.5" y1="562" x2="209" y2="562" stroke="#222" stroke-width="1.1"/>
<line x1="164.5" y1="589" x2="171.7" y2="589" stroke="#222" stroke-width="1.1"/>
<line x1="118.5" y1="588" x2="126.6" y2="588" stroke="#222" stroke-width="1.1"/>
<line x1="104.5" y1="624.7" x2="113" y2="624.7" stroke="#222" stroke-width="1.1"/>
<line x1="203.5" y1="629" x2="211" y2="629" stroke="#222" stroke-width="1.1"/>
<line x1="256" y1="606" x2="257.5" y2="612" stroke="#222" stroke-width="1.1"/>
<line x1="280" y1="577" x2="286.2" y2="577" stroke="#222" stroke-width="1.1"/>
<line x1="363" y1="577" x2="365.5" y2="577" stroke="#222" stroke-width="1.1"/>
<line x1="365.5" y1="592" x2="366.5" y2="592" stroke="#222" stroke-width="1.1"/>
<line x1="364" y1="628" x2="369.5" y2="628" stroke="#222" stroke-width="1.1"/>
<line x1="293.5" y1="638" x2="301" y2="638" stroke="#222" stroke-width="1.1"/>
<line x1="297" y1="674" x2="303.5" y2="674" stroke="#222" stroke-width="1.1"/>
<line x1="414.5" y1="678.5" x2="420" y2="678.5" stroke="#222" stroke-width="1.1"/>
<line x1="306" y1="702" x2="314" y2="702" stroke="#222" stroke-width="1.1"/>
<line x1="414.6" y1="731.4" x2="420" y2="731.4" stroke="#222" stroke-width="1.1"/>
<line x1="205" y1="692" x2="213" y2="692" stroke="#222" stroke-width="1.1"/>
<line x1="206.2" y1="719" x2="213.5" y2="719" stroke="#222" stroke-width="1.1"/>
<line x1="253.7" y1="751" x2="260.5" y2="751" stroke="#222" stroke-width="1.1"/>
<line x1="153.5" y1="762" x2="159" y2="762" stroke="#222" stroke-width="1.1"/>
<line x1="237.6" y1="799.6" x2="244" y2="799.6" stroke="#222" stroke-width="1.1"/>
<line x1="203.3" y1="810" x2="209.5" y2="810" stroke="#222" stroke-width="1.1"/>
<line x1="203.3" y1="830" x2="209.5" y2="830" stroke="#222" stroke-width="1.1"/>
<line x1="120" y1="838" x2="128" y2="838" stroke="#222" stroke-width="1.1"/>
<line x1="601" y1="557" x2="609" y2="557" stroke="#222" stroke-width="1.1"/>
<line x1="573.3" y1="590.7" x2="581.6" y2="590.7" stroke="#222" stroke-width="1.1"/>
<line x1="600.5" y1="696" x2="609.5" y2="696" stroke="#222" stroke-width="1.1"/>
<line x1="602.5" y1="778" x2="611.5" y2="778" stroke="#222" stroke-width="1.1"/>
<line x1="575" y1="813" x2="583.5" y2="813" stroke="#222" stroke-width="1.1"/>
<line x1="602.5" y1="918" x2="611.5" y2="918" stroke="#222" stroke-width="1.1"/>
<line x1="66.2" y1="791" x2="69" y2="786" stroke="#222" stroke-width="1.1"/>
<g fill="none" stroke="#111" stroke-width="1.8">
<rect x="525" y="533.5" width="122.5" height="185"/><rect x="525" y="533.5" width="24.5" height="24.5"/>
<rect x="527" y="755" width="121.5" height="185.5"/><rect x="527" y="755" width="25" height="24"/>
<rect x="398.5" y="592.3" width="25.5" height="25.5"/><rect x="141" y="508.4" width="25.5" height="25.5"/>
</g>
<g font-weight="bold" font-size="20.5">
<text x="529.6" y="552.5">A</text><text x="532.6" y="774">B</text><text x="403.8" y="612">A</text><text x="146.6" y="528.6">B</text>
</g>
<path d="M166.5,532 Q168,560 182,575" fill="none" stroke="#1e1e1e" stroke-width="1.6" />
<path d="M177,570 L183,577 L184,567 Z" fill="#1e1e1e" stroke="#1e1e1e" stroke-width="1" />
<path d="M397,592 Q393,562 381.5,551.3" fill="none" stroke="#1e1e1e" stroke-width="1.6" />
<path d="M378,548 L381,557 L386,550 Z" fill="#1e1e1e" stroke="#1e1e1e" stroke-width="1" />
<path d="M171.7,589 L171.7,604 A25.8,14.5 0 0 0 223.3,604 L223.3,589 Z" fill="#fff" stroke="#1e1e1e" stroke-width="1.8"/>
<ellipse cx="197.5" cy="596.5" rx="25.284" ry="14.209999999999999" fill="none" stroke="#1e1e1e" stroke-width="1.5" />
<path d="M171.7,599.5 A25.8,14.5 0 0 0 223.3,599.5" fill="none" stroke="#1e1e1e" stroke-width="1.0" />
<ellipse cx="197.5" cy="589" rx="25.8" ry="14.5" fill="#fff" stroke="#1e1e1e" stroke-width="2.0" />
<ellipse cx="197.5" cy="589.5" rx="22.188" ry="12.18" fill="none" stroke="#1e1e1e" stroke-width="1.0" />
<ellipse cx="197.5" cy="590.2" rx="17.802" ry="9.57" fill="none" stroke="#1e1e1e" stroke-width="1.0" />
<path d="M185.374,590.5 L185.374,593 A12.126,6.96 0 0 0 209.626,593 L209.626,590.5 Z" fill="#fff" stroke="#1e1e1e" stroke-width="1.2"/>
<ellipse cx="197.5" cy="590.5" rx="12.126" ry="6.96" fill="#fff" stroke="#1e1e1e" stroke-width="1.5" />
<ellipse cx="197.5" cy="590.5" rx="8.772" ry="4.930000000000001" fill="none" stroke="#1e1e1e" stroke-width="1.1" />
<ellipse cx="197.5" cy="590.5" rx="6.966000000000001" ry="3.915" fill="none" stroke="#1e1e1e" stroke-width="1.1" />
<ellipse cx="197.5" cy="590.5" rx="5.16" ry="2.9000000000000004" fill="none" stroke="#1e1e1e" stroke-width="1.1" />
<ellipse cx="197.5" cy="590.5" rx="3.354" ry="1.885" fill="none" stroke="#1e1e1e" stroke-width="1.1" />
<ellipse cx="197.5" cy="590.5" rx="1.548" ry="1.0150000000000001" fill="#fff" stroke="#1e1e1e" stroke-width="1" />
<path d="M330,530 L330,544.5 A26,15.2 0 0 0 382,544.5 L382,530 Z" fill="#fff" stroke="#1e1e1e" stroke-width="1.8"/>
<ellipse cx="356" cy="537.5" rx="25.48" ry="14.895999999999999" fill="none" stroke="#1e1e1e" stroke-width="1.5" />
<path d="M330,540.5 A26,15.2 0 0 0 382,540.5" fill="none" stroke="#1e1e1e" stroke-width="1.0" />
<ellipse cx="356" cy="530" rx="26" ry="15.2" fill="#fff" stroke="#1e1e1e" stroke-width="2.0" />
<ellipse cx="356" cy="530.5" rx="22.36" ry="12.767999999999999" fill="none" stroke="#1e1e1e" stroke-width="1.0" />
<ellipse cx="356" cy="531.2" rx="17.939999999999998" ry="10.032" fill="none" stroke="#1e1e1e" stroke-width="1.0" />
<path d="M343.78,531.5 L343.78,534 A12.219999999999999,7.295999999999999 0 0 0 368.22,534 L368.22,531.5 Z" fill="#fff" stroke="#1e1e1e" stroke-width="1.2"/>
<ellipse cx="356" cy="531.5" rx="12.219999999999999" ry="7.295999999999999" fill="#fff" stroke="#1e1e1e" stroke-width="1.5" />
<ellipse cx="356" cy="531.5" rx="8.84" ry="5.168" fill="none" stroke="#1e1e1e" stroke-width="1.1" />
<ellipse cx="356" cy="531.5" rx="7.0200000000000005" ry="4.104" fill="none" stroke="#1e1e1e" stroke-width="1.1" />
<ellipse cx="356" cy="531.5" rx="5.2" ry="3.04" fill="none" stroke="#1e1e1e" stroke-width="1.1" />
<ellipse cx="356" cy="531.5" rx="3.38" ry="1.976" fill="none" stroke="#1e1e1e" stroke-width="1.1" />
<ellipse cx="356" cy="531.5" rx="1.56" ry="1.064" fill="#fff" stroke="#1e1e1e" stroke-width="1" />
<path d="M286.2,577 L286.2,581 A22.2,12.8 0 0 0 330.59999999999997,581 L330.59999999999997,577 Z" fill="#fff" stroke="#1e1e1e" stroke-width="1.8"/>
<ellipse cx="308.4" cy="577" rx="22.2" ry="12.8" fill="#fff" stroke="#1e1e1e" stroke-width="2.0" />
<ellipse cx="308.4" cy="577.5" rx="17.5" ry="10" fill="none" stroke="#1e1e1e" stroke-width="1.0" />
<ellipse cx="308.2" cy="575.5" rx="11" ry="6" fill="none" stroke="#1e1e1e" stroke-width="1.0" />
<ellipse cx="308.2" cy="575" rx="8" ry="4.64" fill="none" stroke="#1e1e1e" stroke-width="1.1" />
<ellipse cx="308.2" cy="575" rx="6" ry="3.4799999999999995" fill="none" stroke="#1e1e1e" stroke-width="1.1" />
<ellipse cx="308.2" cy="575" rx="4" ry="2.32" fill="none" stroke="#1e1e1e" stroke-width="1.1" />
<ellipse cx="308.2" cy="575" rx="2.2" ry="1.276" fill="none" stroke="#1e1e1e" stroke-width="1.0" />
<ellipse cx="323.2" cy="577.0" rx="1.6" ry="1.0" fill="none" stroke="#1e1e1e" stroke-width="0.9" />
<ellipse cx="315.7" cy="584.3612159321677" rx="1.6" ry="1.0" fill="none" stroke="#1e1e1e" stroke-width="0.9" />
<ellipse cx="300.7" cy="584.3612159321677" rx="1.6" ry="1.0" fill="none" stroke="#1e1e1e" stroke-width="0.9" />
<ellipse cx="293.2" cy="577.0" rx="1.6" ry="1.0" fill="none" stroke="#1e1e1e" stroke-width="0.9" />
<ellipse cx="300.7" cy="569.6387840678323" rx="1.6" ry="1.0" fill="none" stroke="#1e1e1e" stroke-width="0.9" />
<ellipse cx="315.7" cy="569.6387840678323" rx="1.6" ry="1.0" fill="none" stroke="#1e1e1e" stroke-width="0.9" />
<ellipse cx="133" cy="628.5" rx="20" ry="8.7" fill="#fff" stroke="#1e1e1e" stroke-width="1.8" />
<ellipse cx="133" cy="624.5" rx="18.5" ry="8.5" fill="none" stroke="#1e1e1e" stroke-width="1.3" />
<path d="M128,637 L129,639.5 L137,639.5 L138,637" fill="none" stroke="#1e1e1e" stroke-width="1.4" />
<path d="M113,612.6 L113,615.5 A20,10.4 0 0 0 153,615.5 L153,612.6 Z" fill="#fff" stroke="#1e1e1e" stroke-width="1.8"/>
<ellipse cx="133" cy="612.6" rx="20" ry="10.4" fill="#fff" stroke="#1e1e1e" stroke-width="2.0" />
<ellipse cx="133" cy="613" rx="17" ry="9" fill="none" stroke="#1e1e1e" stroke-width="1.0" />
<ellipse cx="133" cy="614" rx="14.2" ry="6.8" fill="none" stroke="#1e1e1e" stroke-width="1.2" />
<ellipse cx="132.8" cy="616" rx="9.5" ry="5.035" fill="none" stroke="#1e1e1e" stroke-width="1.3" />
<ellipse cx="132.8" cy="616" rx="7.5" ry="3.975" fill="none" stroke="#1e1e1e" stroke-width="1.2" />
<ellipse cx="132.8" cy="616" rx="5.5" ry="2.915" fill="none" stroke="#1e1e1e" stroke-width="1.3" />
<ellipse cx="132.8" cy="616" rx="3.5" ry="1.855" fill="none" stroke="#1e1e1e" stroke-width="1.2" />
<ellipse cx="133" cy="590.5" rx="6.4" ry="3.2" fill="#fff" stroke="#1e1e1e" stroke-width="1.7" />
<path d="M128.3,589.5 L128.3,585.5 L130.5,583 L135.5,583 L137.7,585.5 L137.7,589.5 Q133,592 128.3,589.5 Z" fill="#fff" stroke="#1e1e1e" stroke-width="1.7" />
<path d="M130.5,583 L131,586 L135,586 L135.5,583 M131,586 L130.5,589.5 M135,586 L135.5,589.5" fill="none" stroke="#1e1e1e" stroke-width="1.0" />
<path d="M211,575.5 L330.3,531.7 L331.3,537.6 L218.7,580 Z" fill="#fff" stroke="none" stroke-width="0" />
<path d="M211,575.5 L330.3,531.7" fill="none" stroke="#1e1e1e" stroke-width="1.5" />
<path d="M218.7,580 L331.3,537.6" fill="none" stroke="#1e1e1e" stroke-width="1.5" />
<path d="M214.1,577.3 L330.7,534.1" fill="none" stroke="#1e1e1e" stroke-width="0.8" />
<path d="M223,602.5 L305.5,588 L309.5,594 L213.7,614 Z" fill="#fff" stroke="none" stroke-width="0" />
<path d="M223,602.5 L305.5,588" fill="none" stroke="#1e1e1e" stroke-width="1.5" />
<path d="M213.7,614 L309.5,594" fill="none" stroke="#1e1e1e" stroke-width="1.5" />
<path d="M219.3,607.1 L307.1,590.4" fill="none" stroke="#1e1e1e" stroke-width="0.8" />
<path d="M378.8,546.5 L325.3,583.2 L329.3,587.5 L382.5,550 Z" fill="#fff" stroke="none" stroke-width="0" />
<path d="M378.8,546.5 L325.3,583.2" fill="none" stroke="#1e1e1e" stroke-width="1.5" />
<path d="M382.5,550 L329.3,587.5" fill="none" stroke="#1e1e1e" stroke-width="1.5" />
<path d="M171.7,604 A25.8,14.5 0 0 0 223,603" fill="none" stroke="#1e1e1e" stroke-width="1.8" />
<path d="M172.5,609 A25.8,14.5 0 0 0 213.7,614" fill="none" stroke="#1e1e1e" stroke-width="1.8" />
<path d="M381.5,538 A25.5,14.5 0 0 1 378.8,546.5" fill="none" stroke="#1e1e1e" stroke-width="1.8" />
<path d="M381.5,543 A25.5,14.5 0 0 1 382.5,550" fill="none" stroke="#1e1e1e" stroke-width="1.8" />
<path d="M325.3,583.2 Q312,592 305.5,588" fill="none" stroke="#1e1e1e" stroke-width="1.8" />
<path d="M329.3,587.5 Q315,597 309.5,594" fill="none" stroke="#1e1e1e" stroke-width="1.8" />
<ellipse cx="322.34" cy="436.75" rx="1.9" ry="4.6" fill="none" stroke="#1e1e1e" stroke-width="1.4" transform="rotate(29.5 322.34 436.75)"/>
<ellipse cx="325.01" cy="438.26" rx="1.9" ry="4.6" fill="none" stroke="#1e1e1e" stroke-width="1.4" transform="rotate(29.5 325.01 438.26)"/>
<ellipse cx="327.68" cy="439.77" rx="1.9" ry="4.6" fill="none" stroke="#1e1e1e" stroke-width="1.4" transform="rotate(29.5 327.68 439.77)"/>
<ellipse cx="330.35" cy="441.28" rx="1.9" ry="4.6" fill="none" stroke="#1e1e1e" stroke-width="1.4" transform="rotate(29.5 330.35 441.28)"/>
<ellipse cx="333.03" cy="442.79" rx="1.9" ry="4.6" fill="none" stroke="#1e1e1e" stroke-width="1.4" transform="rotate(29.5 333.03 442.79)"/>
<ellipse cx="335.70" cy="444.30" rx="1.9" ry="4.6" fill="none" stroke="#1e1e1e" stroke-width="1.4" transform="rotate(29.5 335.70 444.30)"/>
<ellipse cx="338.37" cy="445.81" rx="1.9" ry="4.6" fill="none" stroke="#1e1e1e" stroke-width="1.4" transform="rotate(29.5 338.37 445.81)"/>
<ellipse cx="341.05" cy="447.32" rx="1.9" ry="4.6" fill="none" stroke="#1e1e1e" stroke-width="1.4" transform="rotate(29.5 341.05 447.32)"/>
<ellipse cx="343.72" cy="448.83" rx="1.9" ry="4.6" fill="none" stroke="#1e1e1e" stroke-width="1.4" transform="rotate(29.5 343.72 448.83)"/>
<ellipse cx="346.39" cy="450.34" rx="1.9" ry="4.6" fill="none" stroke="#1e1e1e" stroke-width="1.4" transform="rotate(29.5 346.39 450.34)"/>
<ellipse cx="349.06" cy="451.85" rx="1.9" ry="4.6" fill="none" stroke="#1e1e1e" stroke-width="1.4" transform="rotate(29.5 349.06 451.85)"/>
<ellipse cx="319.3" cy="434.6" rx="4.3" ry="3.2" fill="none" stroke="#1e1e1e" stroke-width="1.8" transform="rotate(30 319.3 434.6)"/>
<path d="M350.4,452 L366,460 Q369,462.5 366,464 L358.5,462.5" fill="none" stroke="#1e1e1e" stroke-width="1.4" />
<path d="M318,442 L318,502" fill="none" stroke="#1e1e1e" stroke-width="1" stroke-dasharray="4 2.5"/>
<path d="M301.6,469.5 L301.6,471.5 A6.5,2.8 0 0 0 314.6,471.5 L314.6,469.5 Z" fill="#fff" stroke="#1e1e1e" stroke-width="1.7"/>
<ellipse cx="308.1" cy="469.5" rx="6.5" ry="2.8" fill="#fff" stroke="#1e1e1e" stroke-width="1.7" />
<path d="M302.8,468 L302.8,464.5 L305,462.5 L311,462.5 L313.4,464.5 L313.4,468 Q308,471 302.8,468 Z" fill="#fff" stroke="#1e1e1e" stroke-width="1.6" />
<path d="M305,462.5 L306,465.5 L310.5,465.5 L311,462.5 M306,465.5 L305.5,468.5 M310.5,465.5 L311,468.5" fill="none" stroke="#1e1e1e" stroke-width="1.0" />
<ellipse cx="307.5" cy="485" rx="6.2" ry="3.6" fill="#fff" stroke="#1e1e1e" stroke-width="2.2" />
<ellipse cx="307.5" cy="485" rx="2.6" ry="1.4" fill="none" stroke="#1e1e1e" stroke-width="1.3" />
<path d="M301,504 L309,499.5 L326,503.5 Q329,505 325,509 L318,511.5 Q313,511 301,507 Z" fill="#fff" stroke="#1e1e1e" stroke-width="1.3" />
<ellipse cx="309" cy="503.5" rx="2.2" ry="1.2" fill="none" stroke="#1e1e1e" stroke-width="1" />
<ellipse cx="318.5" cy="506" rx="1.5" ry="1" fill="none" stroke="#1e1e1e" stroke-width="1" />
<path d="M303.59999999999997,524 L303.59999999999997,529.5 A5.1,2.5 0 0 0 313.8,529.5 L313.8,524 Z" fill="#fff" stroke="#1e1e1e" stroke-width="1.8"/>
<ellipse cx="308.7" cy="524" rx="5.1" ry="2.5" fill="#fff" stroke="#1e1e1e" stroke-width="1.8" />
<ellipse cx="308.7" cy="524" rx="2.2" ry="1.1" fill="none" stroke="#1e1e1e" stroke-width="1.1" />
<path d="M347.70000000000005,487.8 L347.70000000000005,491.5 A7.9,3.6 0 0 0 363.5,491.5 L363.5,487.8 Z" fill="#fff" stroke="#1e1e1e" stroke-width="1.9"/>
<ellipse cx="355.6" cy="487.8" rx="7.9" ry="3.6" fill="#fff" stroke="#1e1e1e" stroke-width="1.9" />
<ellipse cx="355.6" cy="487.8" rx="4.3" ry="1.9" fill="none" stroke="#1e1e1e" stroke-width="1.5" />
<path d="M196,511 L196,546 L202,546 L202,511" fill="#fff" stroke="#1e1e1e" stroke-width="1.2" />
<line x1="196.5" y1="537.5" x2="201.5" y2="537" stroke="#222" stroke-width="0.6"/>
<line x1="196.5" y1="538.5" x2="201.5" y2="538" stroke="#222" stroke-width="0.6"/>
<line x1="196.5" y1="539.5" x2="201.5" y2="539" stroke="#222" stroke-width="0.6"/>
<line x1="196.5" y1="540.5" x2="201.5" y2="540" stroke="#222" stroke-width="0.6"/>
<line x1="196.5" y1="541.5" x2="201.5" y2="541" stroke="#222" stroke-width="0.6"/>
<line x1="196.5" y1="542.5" x2="201.5" y2="542" stroke="#222" stroke-width="0.6"/>
<line x1="196.5" y1="543.5" x2="201.5" y2="543" stroke="#222" stroke-width="0.6"/>
<line x1="196.5" y1="544.5" x2="201.5" y2="544" stroke="#222" stroke-width="0.6"/>
<line x1="196.5" y1="545.5" x2="201.5" y2="545" stroke="#222" stroke-width="0.6"/>
<path d="M192.5,508 L192.5,511.5 A6.5,3 0 0 0 205.5,511.5 L205.5,508 Z" fill="#fff" stroke="#1e1e1e" stroke-width="1.3"/>
<ellipse cx="199" cy="508" rx="6.5" ry="3" fill="#fff" stroke="#1e1e1e" stroke-width="1.5" />
<ellipse cx="197" cy="562" rx="6.4" ry="3.8" fill="#fff" stroke="#1e1e1e" stroke-width="2.0" />
<ellipse cx="197" cy="562" rx="2.5" ry="1.375" fill="none" stroke="#1e1e1e" stroke-width="1.3" />
<ellipse cx="197" cy="629.2" rx="6.4" ry="4" fill="#fff" stroke="#1e1e1e" stroke-width="2.0" />
<ellipse cx="197" cy="629.2" rx="2.5" ry="1.375" fill="none" stroke="#1e1e1e" stroke-width="1.3" />
<ellipse cx="356" cy="576.8" rx="7" ry="3.8" fill="#fff" stroke="#1e1e1e" stroke-width="2.0" />
<ellipse cx="356" cy="576.8" rx="3" ry="1.6500000000000001" fill="none" stroke="#1e1e1e" stroke-width="1.3" />
<ellipse cx="356" cy="592" rx="9.5" ry="4.8" fill="#fff" stroke="#1e1e1e" stroke-width="2.0" />
<ellipse cx="356" cy="592" rx="3.2" ry="1.7600000000000002" fill="none" stroke="#1e1e1e" stroke-width="1.3" />
<path d="M299,634 L350,603 Q358,600 361,604 Q364,610 357,613 L307,643 Q300,645 297,641 Q295,637 299,634 Z" fill="#fff" stroke="#1e1e1e" stroke-width="1.5" />
<ellipse cx="306.6" cy="638" rx="3" ry="1.8" fill="none" stroke="#1e1e1e" stroke-width="1.2" />
<ellipse cx="356" cy="606.5" rx="3.2" ry="1.9" fill="none" stroke="#1e1e1e" stroke-width="1.2" />
<ellipse cx="356" cy="627.5" rx="8" ry="4.5" fill="#fff" stroke="#1e1e1e" stroke-width="2.0" />
<ellipse cx="356" cy="626.5" rx="4" ry="2.5" fill="#fff" stroke="#1e1e1e" stroke-width="1.4" />
<path d="M352.5,636 L352.5,656 L359,656 L359,636" fill="#fff" stroke="#1e1e1e" stroke-width="1.3" />
<line x1="352.9" y1="638.6" x2="358.6" y2="638.0" stroke="#222" stroke-width="0.7"/>
<line x1="352.9" y1="639.9" x2="358.6" y2="639.3" stroke="#222" stroke-width="0.7"/>
<line x1="352.9" y1="641.2" x2="358.6" y2="640.6" stroke="#222" stroke-width="0.7"/>
<line x1="352.9" y1="642.5" x2="358.6" y2="641.9" stroke="#222" stroke-width="0.7"/>
<line x1="352.9" y1="643.8000000000001" x2="358.6" y2="643.2" stroke="#222" stroke-width="0.7"/>
<line x1="352.9" y1="645.1" x2="358.6" y2="644.5" stroke="#222" stroke-width="0.7"/>
<line x1="352.9" y1="646.4" x2="358.6" y2="645.8" stroke="#222" stroke-width="0.7"/>
<line x1="352.9" y1="647.7" x2="358.6" y2="647.1" stroke="#222" stroke-width="0.7"/>
<line x1="352.9" y1="649.0" x2="358.6" y2="648.4" stroke="#222" stroke-width="0.7"/>
<line x1="352.9" y1="650.3000000000001" x2="358.6" y2="649.7" stroke="#222" stroke-width="0.7"/>
<line x1="352.9" y1="651.6" x2="358.6" y2="651.0" stroke="#222" stroke-width="0.7"/>
<line x1="352.9" y1="652.9" x2="358.6" y2="652.3" stroke="#222" stroke-width="0.7"/>
<line x1="352.9" y1="654.2" x2="358.6" y2="653.6" stroke="#222" stroke-width="0.7"/>
<path d="M352.5,656 L350.5,660 L353.5,664 L358,664 L361,660 L359,656 M355.7,657 L355.7,664" fill="#fff" stroke="#1e1e1e" stroke-width="1.2" />
<path d="M305.8,655 L305.8,673 L311.5,673 L311.5,655 Z" fill="#fff" stroke="#1e1e1e" stroke-width="1.4" />
<line x1="306.2" y1="656.6" x2="311.1" y2="656.0" stroke="#222" stroke-width="0.7"/>
<line x1="306.2" y1="657.9" x2="311.1" y2="657.3" stroke="#222" stroke-width="0.7"/>
<line x1="306.2" y1="659.2" x2="311.1" y2="658.6" stroke="#222" stroke-width="0.7"/>
<line x1="306.2" y1="660.5" x2="311.1" y2="659.9" stroke="#222" stroke-width="0.7"/>
<line x1="306.2" y1="661.8000000000001" x2="311.1" y2="661.2" stroke="#222" stroke-width="0.7"/>
<line x1="306.2" y1="663.1" x2="311.1" y2="662.5" stroke="#222" stroke-width="0.7"/>
<line x1="306.2" y1="664.4" x2="311.1" y2="663.8" stroke="#222" stroke-width="0.7"/>
<line x1="306.2" y1="665.7" x2="311.1" y2="665.1" stroke="#222" stroke-width="0.7"/>
<line x1="306.2" y1="667.0" x2="311.1" y2="666.4" stroke="#222" stroke-width="0.7"/>
<line x1="306.2" y1="668.3000000000001" x2="311.1" y2="667.7" stroke="#222" stroke-width="0.7"/>
<path d="M303.5,675 L303.5,677.5 A5.2,2.2 0 0 0 313.9,677.5 L313.9,675 Z" fill="#fff" stroke="#1e1e1e" stroke-width="1.6"/>
<ellipse cx="308.7" cy="675" rx="5.2" ry="2.2" fill="#fff" stroke="#1e1e1e" stroke-width="1.6" />
<path d="M306,673.5 L306.5,675.5 M311.5,673.5 L311,675.5 M308.7,674 L308.7,676.5" fill="none" stroke="#1e1e1e" stroke-width="0.9" />
<path d="M329.4,664.8 Q334,661 340,664 L340.8,668 L340,674.5 L343.2,679.4 Q337,682 331,687.5 Q324,697 329.4,707 Q335,712 342.4,712 Q352,715 362,714.4 Q372,714 381.5,712 Q390,708 396,703.8 L405.8,703 L412.4,705.4 L410.7,710.3 L402.6,716.8 Q395,719 386.3,720 Q370,721.5 353.8,720.9 Q343,719.5 334.3,716.8 L321.3,711.1 Q315,707 314,702.2 Q315,696 318,690.8 L326.1,674.5 Z" fill="#fff" stroke="#1e1e1e" stroke-width="1.8" />
<path d="M331,668 L340,673 M390,707 L402.6,712" fill="none" stroke="#1e1e1e" stroke-width="1.0" />
<ellipse cx="338.5" cy="665.5" rx="2" ry="1.2" fill="none" stroke="#1e1e1e" stroke-width="1.1" />
<path d="M405.8,681 L405.8,694 L411.4,694 L411.4,681" fill="#fff" stroke="#1e1e1e" stroke-width="1.3" />
<line x1="406.2" y1="683.6" x2="411" y2="683.0" stroke="#222" stroke-width="0.7"/>
<line x1="406.2" y1="684.9" x2="411" y2="684.3" stroke="#222" stroke-width="0.7"/>
<line x1="406.2" y1="686.2" x2="411" y2="685.6" stroke="#222" stroke-width="0.7"/>
<line x1="406.2" y1="687.5" x2="411" y2="686.9" stroke="#222" stroke-width="0.7"/>
<line x1="406.2" y1="688.8000000000001" x2="411" y2="688.2" stroke="#222" stroke-width="0.7"/>
<line x1="406.2" y1="690.1" x2="411" y2="689.5" stroke="#222" stroke-width="0.7"/>
<line x1="406.2" y1="691.4" x2="411" y2="690.8" stroke="#222" stroke-width="0.7"/>
<line x1="406.2" y1="692.7" x2="411" y2="692.1" stroke="#222" stroke-width="0.7"/>
<line x1="406.2" y1="694.0" x2="411" y2="693.4" stroke="#222" stroke-width="0.7"/>
<path d="M402.8,677.5 L402.8,680.5 A5.8,2.6 0 0 0 414.40000000000003,680.5 L414.40000000000003,677.5 Z" fill="#fff" stroke="#1e1e1e" stroke-width="1.6"/>
<ellipse cx="408.6" cy="677.5" rx="5.8" ry="2.6" fill="#fff" stroke="#1e1e1e" stroke-width="1.6" />
<path d="M404,676 L405,673.5 L412,673.5 L413.2,676" fill="#fff" stroke="#1e1e1e" stroke-width="1.4" />
<path d="M402.6,730 L402.6,733 A6,3 0 0 0 414.6,733 L414.6,730 Z" fill="#fff" stroke="#1e1e1e" stroke-width="1.8"/>
<ellipse cx="408.6" cy="730" rx="6" ry="3" fill="#fff" stroke="#1e1e1e" stroke-width="1.8" />
<ellipse cx="408.6" cy="730" rx="2.5" ry="1.3" fill="none" stroke="#1e1e1e" stroke-width="1.1" />
<path d="M161.3,636.5 L179.4,626.3 L211.7,646.1 L194.1,658 Z" fill="none" stroke="#1e1e1e" stroke-width="1.3" stroke-dasharray="4.5 2.3"/>
<path d="M165.5,638 L180,630 L207.5,646.5 L194,655.5 Z" fill="none" stroke="#1e1e1e" stroke-width="1.2" stroke-dasharray="4.5 2.3"/>
<ellipse cx="197" cy="647.8" rx="2.5" ry="1.5" fill="none" stroke="#1e1e1e" stroke-width="1.2" />
<line x1="197" y1="634" x2="197" y2="647" stroke="#222" stroke-width="1"/>
<line x1="197" y1="660" x2="197" y2="668" stroke="#222" stroke-width="1"/>
<path d="M191.3,696 L191.3,706 Q197,709 203.2,706 L203.2,696 Z" fill="#fff" stroke="#1e1e1e" stroke-width="1.4" />
<path d="M190.2,689.5 L190.2,695.5 Q197.5,699.5 204.9,695.5 L204.9,689.5 Z" fill="#fff" stroke="#1e1e1e" stroke-width="1.5" />
<ellipse cx="197.5" cy="689.5" rx="7.35" ry="2.8" fill="#fff" stroke="#1e1e1e" stroke-width="1.5" />
<path d="M192.4,668 L192.4,689 M202.6,668 L202.6,689" fill="none" stroke="#1e1e1e" stroke-width="1.4" />
<ellipse cx="197.5" cy="667.5" rx="5.1" ry="2.2" fill="#fff" stroke="#1e1e1e" stroke-width="1.5" />
<ellipse cx="197.5" cy="667.5" rx="2.5" ry="1.1" fill="none" stroke="#1e1e1e" stroke-width="1.2" />
<path d="M166.4,722 L166.4,741.3 L188,759.4 L188,771" fill="none" stroke="#1e1e1e" stroke-width="1.4" stroke-dasharray="4.5 2.2"/>
<path d="M192.4,737 L192.4,771" fill="none" stroke="#1e1e1e" stroke-width="1.4" stroke-dasharray="4.5 2.2"/>
<path d="M148.3,790 L237.7,739 L254.6,747 L254.6,754.9 L156.2,811.5 L156.2,801 Z" fill="#fff" stroke="#1e1e1e" stroke-width="1.5" />
<path d="M163,797.9 L254.6,747 M148.3,790 L163,797.9 L156.2,801" fill="none" stroke="#1e1e1e" stroke-width="1.4" />
<path d="M166,796 L251,749 M167,798.3 L252,751.3" fill="none" stroke="#1e1e1e" stroke-width="0.8" />
<path d="M188,770.7 L198,764 L212.8,771.9 L202.6,778.7 Z" fill="#fff" stroke="#1e1e1e" stroke-width="1.3" />
<path d="M192.4,770 L192.4,777 M197,771 L197,781" fill="none" stroke="#1e1e1e" stroke-width="1.2" />
<path d="M124.5,797.9 L140.4,788.8 L148.3,790 L152,795 L135.8,803.5 L124.5,801 Z" fill="#fff" stroke="#1e1e1e" stroke-width="1.5" />
<path d="M140.4,788.8 L146,797 L150,805 L152,795" fill="none" stroke="#1e1e1e" stroke-width="1.1" />
<ellipse cx="132.4" cy="797.9" rx="2.2" ry="1.4" fill="none" stroke="#1e1e1e" stroke-width="1.2" />
<path d="M128,806 L131,812 M139,806 L140,812" fill="none" stroke="#1e1e1e" stroke-width="0.9" />
<path d="M176,726 L192,722 L194,734 L183,739 Z" fill="#fff" stroke="#1e1e1e" stroke-width="1.4" />
<ellipse cx="184.5" cy="734" rx="4.5" ry="4" fill="#fff" stroke="#1e1e1e" stroke-width="1.6" />
<ellipse cx="184.5" cy="734" rx="1.8" ry="1.6" fill="none" stroke="#1e1e1e" stroke-width="1.2" />
<path d="M188,717.5 L188,727.5 A9,5 0 0 0 206,727.5 L206,717.5 Z" fill="#fff" stroke="#1e1e1e" stroke-width="1.6"/>
<ellipse cx="197" cy="717.5" rx="9" ry="5" fill="#fff" stroke="#1e1e1e" stroke-width="1.7" />
<ellipse cx="197" cy="717.5" rx="5" ry="2.8" fill="none" stroke="#1e1e1e" stroke-width="1.4" />
<ellipse cx="163" cy="759.4" rx="4" ry="3.6" fill="#fff" stroke="#1e1e1e" stroke-width="1.8" />
<ellipse cx="163" cy="759.4" rx="1.8" ry="1.5" fill="none" stroke="#1e1e1e" stroke-width="1.2" />
<path d="M166.4,761.7 L188,770.7" fill="none" stroke="#1e1e1e" stroke-width="1.0" />
<path d="M220.7,791.5 L233,797.5 L231.5,800.5 L219.3,794.8 Z" fill="#fff" stroke="#1e1e1e" stroke-width="1.2" />
<line x1="220.7" y1="791.5" x2="219.3" y2="794.8" stroke="#222" stroke-width="0.7"/>
<line x1="222.7" y1="792.5" x2="221.3" y2="795.8" stroke="#222" stroke-width="0.7"/>
<line x1="224.7" y1="793.5" x2="223.3" y2="796.8" stroke="#222" stroke-width="0.7"/>
<line x1="226.7" y1="794.5" x2="225.3" y2="797.8" stroke="#222" stroke-width="0.7"/>
<line x1="228.7" y1="795.5" x2="227.3" y2="798.8" stroke="#222" stroke-width="0.7"/>
<line x1="230.7" y1="796.5" x2="229.3" y2="799.8" stroke="#222" stroke-width="0.7"/>
<ellipse cx="234.3" cy="800.2" rx="3.2" ry="3.5" fill="#fff" stroke="#1e1e1e" stroke-width="1.5" />
<path d="M202.6,782 L220.7,793.4" fill="none" stroke="#1e1e1e" stroke-width="1.0" />
<path d="M191,828 L191,831 A6,3 0 0 0 203,831 L203,828 Z" fill="#fff" stroke="#1e1e1e" stroke-width="1.8"/>
<ellipse cx="197" cy="828" rx="6" ry="3" fill="#fff" stroke="#1e1e1e" stroke-width="1.8" />
<ellipse cx="197" cy="828" rx="2.5" ry="1.3" fill="none" stroke="#1e1e1e" stroke-width="1.1" />
<ellipse cx="197" cy="809.7" rx="6" ry="3.8" fill="#fff" stroke="#1e1e1e" stroke-width="1.6" />
<ellipse cx="197" cy="809.7" rx="2.5" ry="1.4" fill="none" stroke="#1e1e1e" stroke-width="1.1" />
<path d="M130.2,818 L130.2,836 L135.8,836 L135.8,818 Z" fill="#fff" stroke="#1e1e1e" stroke-width="1.3" />
<line x1="130.6" y1="819.6" x2="135.4" y2="819.0" stroke="#222" stroke-width="0.7"/>
<line x1="130.6" y1="820.9" x2="135.4" y2="820.3" stroke="#222" stroke-width="0.7"/>
<line x1="130.6" y1="822.2" x2="135.4" y2="821.6" stroke="#222" stroke-width="0.7"/>
<line x1="130.6" y1="823.5" x2="135.4" y2="822.9" stroke="#222" stroke-width="0.7"/>
<line x1="130.6" y1="824.8000000000001" x2="135.4" y2="824.2" stroke="#222" stroke-width="0.7"/>
<line x1="130.6" y1="826.1" x2="135.4" y2="825.5" stroke="#222" stroke-width="0.7"/>
<line x1="130.6" y1="827.4" x2="135.4" y2="826.8" stroke="#222" stroke-width="0.7"/>
<line x1="130.6" y1="828.7" x2="135.4" y2="828.1" stroke="#222" stroke-width="0.7"/>
<line x1="130.6" y1="830.0" x2="135.4" y2="829.4" stroke="#222" stroke-width="0.7"/>
<line x1="130.6" y1="831.3000000000001" x2="135.4" y2="830.7" stroke="#222" stroke-width="0.7"/>
<line x1="130.6" y1="832.6" x2="135.4" y2="832.0" stroke="#222" stroke-width="0.7"/>
<line x1="130.6" y1="833.9" x2="135.4" y2="833.3" stroke="#222" stroke-width="0.7"/>
<path d="M127.6,838.5 L127.6,841 A5.4,2.3 0 0 0 138.4,841 L138.4,838.5 Z" fill="#fff" stroke="#1e1e1e" stroke-width="1.6"/>
<ellipse cx="133" cy="838.5" rx="5.4" ry="2.3" fill="#fff" stroke="#1e1e1e" stroke-width="1.6" />
<ellipse cx="59.01" cy="772.92" rx="1.9" ry="4.6" fill="none" stroke="#1e1e1e" stroke-width="1.4" transform="rotate(28.7 59.01 772.92)"/>
<ellipse cx="61.64" cy="774.35" rx="1.9" ry="4.6" fill="none" stroke="#1e1e1e" stroke-width="1.4" transform="rotate(28.7 61.64 774.35)"/>
<ellipse cx="64.27" cy="775.79" rx="1.9" ry="4.6" fill="none" stroke="#1e1e1e" stroke-width="1.4" transform="rotate(28.7 64.27 775.79)"/>
<ellipse cx="66.90" cy="777.23" rx="1.9" ry="4.6" fill="none" stroke="#1e1e1e" stroke-width="1.4" transform="rotate(28.7 66.90 777.23)"/>
<ellipse cx="69.52" cy="778.66" rx="1.9" ry="4.6" fill="none" stroke="#1e1e1e" stroke-width="1.4" transform="rotate(28.7 69.52 778.66)"/>
<ellipse cx="72.15" cy="780.10" rx="1.9" ry="4.6" fill="none" stroke="#1e1e1e" stroke-width="1.4" transform="rotate(28.7 72.15 780.10)"/>
<ellipse cx="74.78" cy="781.54" rx="1.9" ry="4.6" fill="none" stroke="#1e1e1e" stroke-width="1.4" transform="rotate(28.7 74.78 781.54)"/>
<ellipse cx="77.40" cy="782.97" rx="1.9" ry="4.6" fill="none" stroke="#1e1e1e" stroke-width="1.4" transform="rotate(28.7 77.40 782.97)"/>
<ellipse cx="80.03" cy="784.41" rx="1.9" ry="4.6" fill="none" stroke="#1e1e1e" stroke-width="1.4" transform="rotate(28.7 80.03 784.41)"/>
<ellipse cx="82.66" cy="785.85" rx="1.9" ry="4.6" fill="none" stroke="#1e1e1e" stroke-width="1.4" transform="rotate(28.7 82.66 785.85)"/>
<ellipse cx="85.29" cy="787.28" rx="1.9" ry="4.6" fill="none" stroke="#1e1e1e" stroke-width="1.4" transform="rotate(28.7 85.29 787.28)"/>
<ellipse cx="55.6" cy="770.6" rx="3.8" ry="3" fill="none" stroke="#1e1e1e" stroke-width="1.9" transform="rotate(28 55.6 770.6)"/>
<path d="M86.6,786 L88,782.5 L94.2,785.5" fill="none" stroke="#1e1e1e" stroke-width="1.3" />
<path d="M95.4,785.3 L127,801" fill="none" stroke="#1e1e1e" stroke-width="1.1" stroke-dasharray="4 2.5"/>
<line x1="589" y1="584" x2="589" y2="630.5" stroke="#222" stroke-width="1"/>
<path d="M557.5,631.5 A31.5,16.7 0 0 0 620.5,631.5" fill="none" stroke="#1e1e1e" stroke-width="1.5" stroke-dasharray="4.5 2.2"/>
<path d="M557.5,638 A31.5,16.7 0 0 0 620.5,638" fill="none" stroke="#1e1e1e" stroke-width="1.5" stroke-dasharray="4.5 2.2"/>
<path d="M557.5,640.5 A31.5,16.7 0 0 0 620.5,640.5" fill="none" stroke="#1e1e1e" stroke-width="1.5" stroke-dasharray="4.5 2.2"/>
<path d="M557.5,647 A31.5,16.7 0 0 0 620.5,647" fill="none" stroke="#1e1e1e" stroke-width="1.5" stroke-dasharray="4.5 2.2"/>
<path d="M557.5,649.5 A31.5,16.7 0 0 0 620.5,649.5" fill="none" stroke="#1e1e1e" stroke-width="1.5" stroke-dasharray="4.5 2.2"/>
<path d="M557.5,629 L557.5,649.5 M620.5,629 L620.5,649.5" fill="none" stroke="#1e1e1e" stroke-width="1.5" stroke-dasharray="4.5 2.2"/>
<ellipse cx="589" cy="629" rx="31.5" ry="16.7" fill="none" stroke="#1e1e1e" stroke-width="1.6" stroke-dasharray="4.5 2.2"/>
<ellipse cx="589" cy="629.5" rx="27.0" ry="13.2" fill="none" stroke="#1e1e1e" stroke-width="1.5" stroke-dasharray="4.5 2.2"/>
<ellipse cx="589" cy="632" rx="16.1" ry="9.9" fill="none" stroke="#1e1e1e" stroke-width="1.6" stroke-dasharray="4.5 2.2"/>
<path d="M573,634.5 A16.1,9.9 0 0 0 605,634.5" fill="none" stroke="#1e1e1e" stroke-width="1.4" stroke-dasharray="4.5 2.2"/>
<ellipse cx="589" cy="630" rx="10.7" ry="5.4" fill="none" stroke="#1e1e1e" stroke-width="1.3" stroke-dasharray="6 1.5"/>
<line x1="589" y1="667" x2="589" y2="690" stroke="#222" stroke-width="1"/>
<path d="M577,553 L577,557.5 A12,6 0 0 0 601,557.5 L601,553 Z" fill="#fff" stroke="#1e1e1e" stroke-width="1.5"/>
<ellipse cx="589" cy="553" rx="12" ry="6" fill="#fff" stroke="#1e1e1e" stroke-width="1.8" />
<ellipse cx="589" cy="553" rx="8.64" ry="4.199999999999999" fill="none" stroke="#1e1e1e" stroke-width="1.3" />
<ellipse cx="589" cy="553" rx="4.800000000000001" ry="2.2800000000000002" fill="none" stroke="#1e1e1e" stroke-width="1.2" />
<path d="M581.5,587.5 L581.5,596.5 A7,3.5 0 0 0 595.5,596.5 L595.5,587.5 Z" fill="#fff" stroke="#1e1e1e" stroke-width="1.5"/>
<ellipse cx="588.5" cy="587.5" rx="7" ry="3.5" fill="#fff" stroke="#1e1e1e" stroke-width="1.5" />
<ellipse cx="588.5" cy="587.5" rx="3.8500000000000005" ry="1.9250000000000003" fill="none" stroke="#1e1e1e" stroke-width="1.1" />
<path d="M577,692 L577,696.5 A12,6 0 0 0 601,696.5 L601,692 Z" fill="#fff" stroke="#1e1e1e" stroke-width="1.5"/>
<ellipse cx="589" cy="692" rx="12" ry="6" fill="#fff" stroke="#1e1e1e" stroke-width="1.8" />
<ellipse cx="589" cy="692" rx="8.64" ry="4.199999999999999" fill="none" stroke="#1e1e1e" stroke-width="1.3" />
<ellipse cx="589" cy="692" rx="4.800000000000001" ry="2.2800000000000002" fill="none" stroke="#1e1e1e" stroke-width="1.2" />
<line x1="591" y1="819" x2="591" y2="853" stroke="#222" stroke-width="1"/>
<path d="M559.5,854.5 A31,16.5 0 0 0 621.5,854.5" fill="none" stroke="#1e1e1e" stroke-width="1.5" stroke-dasharray="4.5 2.2"/>
<path d="M559.5,861 A31,16.5 0 0 0 621.5,861" fill="none" stroke="#1e1e1e" stroke-width="1.5" stroke-dasharray="4.5 2.2"/>
<path d="M559.5,863.5 A31,16.5 0 0 0 621.5,863.5" fill="none" stroke="#1e1e1e" stroke-width="1.5" stroke-dasharray="4.5 2.2"/>
<path d="M559.5,870 A31,16.5 0 0 0 621.5,870" fill="none" stroke="#1e1e1e" stroke-width="1.5" stroke-dasharray="4.5 2.2"/>
<path d="M559.5,872.5 A31,16.5 0 0 0 621.5,872.5" fill="none" stroke="#1e1e1e" stroke-width="1.5" stroke-dasharray="4.5 2.2"/>
<path d="M559.5,852 L559.5,872.5 M621.5,852 L621.5,872.5" fill="none" stroke="#1e1e1e" stroke-width="1.5" stroke-dasharray="4.5 2.2"/>
<ellipse cx="590.5" cy="852" rx="31" ry="16.5" fill="none" stroke="#1e1e1e" stroke-width="1.6" stroke-dasharray="4.5 2.2"/>
<ellipse cx="590.5" cy="852.5" rx="26.5" ry="13.0" fill="none" stroke="#1e1e1e" stroke-width="1.5" stroke-dasharray="4.5 2.2"/>
<ellipse cx="590.5" cy="855" rx="16.1" ry="9.9" fill="none" stroke="#1e1e1e" stroke-width="1.6" stroke-dasharray="4.5 2.2"/>
<path d="M574.5,857.5 A16.1,9.9 0 0 0 606.5,857.5" fill="none" stroke="#1e1e1e" stroke-width="1.4" stroke-dasharray="4.5 2.2"/>
<ellipse cx="590.5" cy="853" rx="10.7" ry="5.4" fill="none" stroke="#1e1e1e" stroke-width="1.3" stroke-dasharray="6 1.5"/>
<line x1="591" y1="889" x2="591" y2="915" stroke="#222" stroke-width="1"/>
<path d="M579,775.5 L579,780.0 A12,6 0 0 0 603,780.0 L603,775.5 Z" fill="#fff" stroke="#1e1e1e" stroke-width="1.5"/>
<ellipse cx="591" cy="775.5" rx="12" ry="6" fill="#fff" stroke="#1e1e1e" stroke-width="1.8" />
<ellipse cx="591" cy="775.5" rx="8.64" ry="4.199999999999999" fill="none" stroke="#1e1e1e" stroke-width="1.3" />
<ellipse cx="591" cy="775.5" rx="4.800000000000001" ry="2.2800000000000002" fill="none" stroke="#1e1e1e" stroke-width="1.2" />
<path d="M583.5,808.5 L583.5,818.5 A6.8,3.5 0 0 0 597.0999999999999,818.5 L597.0999999999999,808.5 Z" fill="#fff" stroke="#1e1e1e" stroke-width="1.5"/>
<ellipse cx="590.3" cy="808.5" rx="6.8" ry="3.5" fill="#fff" stroke="#1e1e1e" stroke-width="1.5" />
<ellipse cx="590.3" cy="808.5" rx="3.74" ry="1.9250000000000003" fill="none" stroke="#1e1e1e" stroke-width="1.1" />
<path d="M579,915.5 L579,920.0 A12,6 0 0 0 603,920.0 L603,915.5 Z" fill="#fff" stroke="#1e1e1e" stroke-width="1.5"/>
<ellipse cx="591" cy="915.5" rx="12" ry="6" fill="#fff" stroke="#1e1e1e" stroke-width="1.8" />
<ellipse cx="591" cy="915.5" rx="8.64" ry="4.199999999999999" fill="none" stroke="#1e1e1e" stroke-width="1.3" />
<ellipse cx="591" cy="915.5" rx="4.800000000000001" ry="2.2800000000000002" fill="none" stroke="#1e1e1e" stroke-width="1.2" />
<rect x="44" y="913.4" width="76" height="46.2" fill="#fff" stroke="#1a1a1a" stroke-width="1.3"/>
<rect x="44" y="913.4" width="76" height="19.2" fill="#111"/>
<line x1="44" y1="949" x2="120" y2="949" stroke="#222" stroke-width="1"/>
<g fill="#fff">
<path d="M46.3,926.2 Q50,924.5 53,920 Q55.5,916.3 57.8,916 L62.3,916 L62.3,917.3 Q58.2,921 55.5,926.7 Q52.5,930.8 49.3,930.8 L46.3,930.8 Z"/>
<path d="M63,916 L74,916 L74,921.3 L71.7,921.3 L71.7,930.8 L66,930.8 L66,921.3 L63,921.3 Z"/>
<rect x="75.7" y="916" width="4.9" height="14.8"/>
<path fill-rule="evenodd" d="M97.3,919.2 A7.6,7.4 0 1 0 98.6,923.4 L98.6,921.9 L91.4,921.9 L91.4,924.9 L94.4,924.9 A3.4,3.2 0 1 1 93.9,921.4 Z"/>
<path fill-rule="evenodd" d="M99.2,916 L108.2,916 L117.8,930.8 L112.8,930.8 L110.8,926.3 L104.4,926.3 L104.4,930.8 L99.2,930.8 Z M104.6,920.2 L107.4,923.9 L104.4,923.9 Z"/>
<circle cx="115.4" cy="918.2" r="1.8"/>
</g>
<text x="82" y="946.3" font-size="15.2" text-anchor="middle" textLength="41.5" lengthAdjust="spacingAndGlyphs">2031A</text>
<text x="81.6" y="958" font-size="7.6" text-anchor="middle" textLength="47" lengthAdjust="spacingAndGlyphs" style="fill:#444">SPARE PARTS</text>
</g></svg>
</body></html>
